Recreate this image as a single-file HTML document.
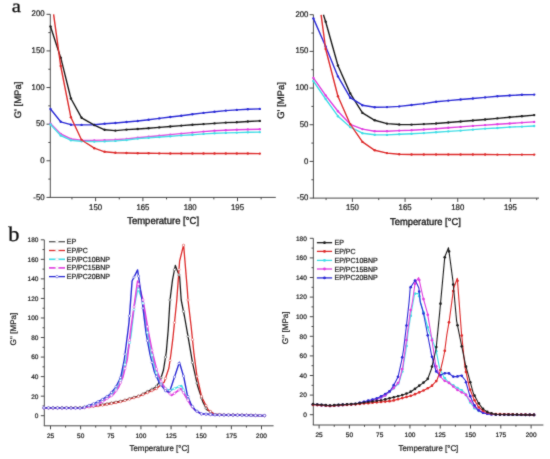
<!DOCTYPE html>
<html><head><meta charset="utf-8"><title>Figure</title>
<style>
html,body{margin:0;padding:0;background:#fff;}
body{width:550px;height:459px;overflow:hidden;font-family:"Liberation Sans", sans-serif;}
svg{display:block;text-rendering:geometricPrecision;}
</style></head>
<body>
<svg width="550" height="459" viewBox="0 0 550 459">
<defs><filter id="soft" filterUnits="userSpaceOnUse" x="0" y="0" width="550" height="459"><feConvolveMatrix order="3" kernelMatrix="0.02 0.08 0.02 0.08 0.6 0.08 0.02 0.08 0.02" edgeMode="none"/></filter></defs>
<rect width="550" height="459" fill="#fff"/>
<g filter="url(#soft)">
<line x1="50.3" y1="14.3" x2="50.3" y2="197.4" stroke="#4a4a4a" stroke-width="1"/>
<line x1="49.8" y1="197.4" x2="275.8" y2="197.4" stroke="#4a4a4a" stroke-width="1"/>
<line x1="46.5" y1="14.3" x2="50.3" y2="14.3" stroke="#4a4a4a" stroke-width="1"/>
<text transform="translate(44.6,16.41) scale(1,1.05)" font-size="7.8" text-anchor="end" fill="#1c1c1c" stroke="#1c1c1c" stroke-width="0.22" font-family='"Liberation Sans", sans-serif' >200</text>
<line x1="46.5" y1="50.92" x2="50.3" y2="50.92" stroke="#4a4a4a" stroke-width="1"/>
<text transform="translate(44.6,53.03) scale(1,1.05)" font-size="7.8" text-anchor="end" fill="#1c1c1c" stroke="#1c1c1c" stroke-width="0.22" font-family='"Liberation Sans", sans-serif' >150</text>
<line x1="46.5" y1="87.54" x2="50.3" y2="87.54" stroke="#4a4a4a" stroke-width="1"/>
<text transform="translate(44.6,89.65) scale(1,1.05)" font-size="7.8" text-anchor="end" fill="#1c1c1c" stroke="#1c1c1c" stroke-width="0.22" font-family='"Liberation Sans", sans-serif' >100</text>
<line x1="46.5" y1="124.16" x2="50.3" y2="124.16" stroke="#4a4a4a" stroke-width="1"/>
<text transform="translate(44.6,126.27) scale(1,1.05)" font-size="7.8" text-anchor="end" fill="#1c1c1c" stroke="#1c1c1c" stroke-width="0.22" font-family='"Liberation Sans", sans-serif' >50</text>
<line x1="46.5" y1="160.78" x2="50.3" y2="160.78" stroke="#4a4a4a" stroke-width="1"/>
<text transform="translate(44.6,162.89) scale(1,1.05)" font-size="7.8" text-anchor="end" fill="#1c1c1c" stroke="#1c1c1c" stroke-width="0.22" font-family='"Liberation Sans", sans-serif' >0</text>
<line x1="46.5" y1="197.4" x2="50.3" y2="197.4" stroke="#4a4a4a" stroke-width="1"/>
<text transform="translate(44.6,199.51) scale(1,1.05)" font-size="7.8" text-anchor="end" fill="#1c1c1c" stroke="#1c1c1c" stroke-width="0.22" font-family='"Liberation Sans", sans-serif' >-50</text>
<line x1="48.3" y1="32.61" x2="50.3" y2="32.61" stroke="#4a4a4a" stroke-width="1"/>
<line x1="48.3" y1="69.23" x2="50.3" y2="69.23" stroke="#4a4a4a" stroke-width="1"/>
<line x1="48.3" y1="105.85" x2="50.3" y2="105.85" stroke="#4a4a4a" stroke-width="1"/>
<line x1="48.3" y1="142.47" x2="50.3" y2="142.47" stroke="#4a4a4a" stroke-width="1"/>
<line x1="48.3" y1="179.09" x2="50.3" y2="179.09" stroke="#4a4a4a" stroke-width="1"/>
<line x1="95.6" y1="197.4" x2="95.6" y2="201.2" stroke="#4a4a4a" stroke-width="1"/>
<text transform="translate(95.6,209.8) scale(1,1.05)" font-size="7.8" text-anchor="middle" fill="#1c1c1c" stroke="#1c1c1c" stroke-width="0.22" font-family='"Liberation Sans", sans-serif' >150</text>
<line x1="142.9" y1="197.4" x2="142.9" y2="201.2" stroke="#4a4a4a" stroke-width="1"/>
<text transform="translate(142.9,209.8) scale(1,1.05)" font-size="7.8" text-anchor="middle" fill="#1c1c1c" stroke="#1c1c1c" stroke-width="0.22" font-family='"Liberation Sans", sans-serif' >165</text>
<line x1="190.2" y1="197.4" x2="190.2" y2="201.2" stroke="#4a4a4a" stroke-width="1"/>
<text transform="translate(190.2,209.8) scale(1,1.05)" font-size="7.8" text-anchor="middle" fill="#1c1c1c" stroke="#1c1c1c" stroke-width="0.22" font-family='"Liberation Sans", sans-serif' >180</text>
<line x1="237.5" y1="197.4" x2="237.5" y2="201.2" stroke="#4a4a4a" stroke-width="1"/>
<text transform="translate(237.5,209.8) scale(1,1.05)" font-size="7.8" text-anchor="middle" fill="#1c1c1c" stroke="#1c1c1c" stroke-width="0.22" font-family='"Liberation Sans", sans-serif' >195</text>
<line x1="71.95" y1="197.4" x2="71.95" y2="199.4" stroke="#4a4a4a" stroke-width="1"/>
<line x1="119.25" y1="197.4" x2="119.25" y2="199.4" stroke="#4a4a4a" stroke-width="1"/>
<line x1="166.55" y1="197.4" x2="166.55" y2="199.4" stroke="#4a4a4a" stroke-width="1"/>
<line x1="213.85" y1="197.4" x2="213.85" y2="199.4" stroke="#4a4a4a" stroke-width="1"/>
<line x1="261.15" y1="197.4" x2="261.15" y2="199.4" stroke="#4a4a4a" stroke-width="1"/>
<text transform="translate(163.1,224.1) scale(1,1.05)" font-size="9.5" text-anchor="middle" fill="#1c1c1c" stroke="#1c1c1c" stroke-width="0.35" font-family='"Liberation Sans", sans-serif' >Temperature [°C]</text>
<text transform="translate(21.2,100) rotate(-90)" font-size="9.5" text-anchor="middle" fill="#1c1c1c" stroke="#1c1c1c" stroke-width="0.3" font-family='"Liberation Sans", sans-serif'>G' [MPa]</text>
<polyline points="50.5,123.6 60.7,134 70.9,139 81.6,140.2 94.3,140.4 104.6,140.1 115.4,139.7 126.5,138.9 137.7,137.8 148.6,136.8 159.3,135.7 170.3,134.6 181.3,133.6 192.4,132.6 203.5,131.6 214.5,130.8 225.8,130.2 236.8,129.8 247.8,129.5 259.8,129.2" fill="none" stroke="#e03ee0" stroke-width="1.4" stroke-linejoin="round"/>
<circle cx="50.5" cy="123.6" r="1.2" fill="#e03ee0"/>
<circle cx="60.7" cy="134" r="1.2" fill="#e03ee0"/>
<circle cx="70.9" cy="139" r="1.2" fill="#e03ee0"/>
<circle cx="81.6" cy="140.2" r="1.2" fill="#e03ee0"/>
<circle cx="94.3" cy="140.4" r="1.2" fill="#e03ee0"/>
<circle cx="104.6" cy="140.1" r="1.2" fill="#e03ee0"/>
<circle cx="115.4" cy="139.7" r="1.2" fill="#e03ee0"/>
<circle cx="126.5" cy="138.9" r="1.2" fill="#e03ee0"/>
<circle cx="137.7" cy="137.8" r="1.2" fill="#e03ee0"/>
<circle cx="148.6" cy="136.8" r="1.2" fill="#e03ee0"/>
<circle cx="159.3" cy="135.7" r="1.2" fill="#e03ee0"/>
<circle cx="170.3" cy="134.6" r="1.2" fill="#e03ee0"/>
<circle cx="181.3" cy="133.6" r="1.2" fill="#e03ee0"/>
<circle cx="192.4" cy="132.6" r="1.2" fill="#e03ee0"/>
<circle cx="203.5" cy="131.6" r="1.2" fill="#e03ee0"/>
<circle cx="214.5" cy="130.8" r="1.2" fill="#e03ee0"/>
<circle cx="225.8" cy="130.2" r="1.2" fill="#e03ee0"/>
<circle cx="236.8" cy="129.8" r="1.2" fill="#e03ee0"/>
<circle cx="247.8" cy="129.5" r="1.2" fill="#e03ee0"/>
<circle cx="259.8" cy="129.2" r="1.2" fill="#e03ee0"/>
<polyline points="50.5,124.5 60.7,135.5 70.9,140.2 81.6,141.3 94.3,141.6 104.6,141.4 115.4,140.9 126.5,140 137.7,138.6 148.6,137.8 159.3,137 170.3,136.2 181.3,135.4 192.4,134.7 203.5,133.9 214.5,133.2 225.8,132.9 236.8,132.6 247.8,132.3 259.8,132.1" fill="none" stroke="#3fdde6" stroke-width="1.4" stroke-linejoin="round"/>
<circle cx="50.5" cy="124.5" r="1.2" fill="#3fdde6"/>
<circle cx="60.7" cy="135.5" r="1.2" fill="#3fdde6"/>
<circle cx="70.9" cy="140.2" r="1.2" fill="#3fdde6"/>
<circle cx="81.6" cy="141.3" r="1.2" fill="#3fdde6"/>
<circle cx="94.3" cy="141.6" r="1.2" fill="#3fdde6"/>
<circle cx="104.6" cy="141.4" r="1.2" fill="#3fdde6"/>
<circle cx="115.4" cy="140.9" r="1.2" fill="#3fdde6"/>
<circle cx="126.5" cy="140" r="1.2" fill="#3fdde6"/>
<circle cx="137.7" cy="138.6" r="1.2" fill="#3fdde6"/>
<circle cx="148.6" cy="137.8" r="1.2" fill="#3fdde6"/>
<circle cx="159.3" cy="137" r="1.2" fill="#3fdde6"/>
<circle cx="170.3" cy="136.2" r="1.2" fill="#3fdde6"/>
<circle cx="181.3" cy="135.4" r="1.2" fill="#3fdde6"/>
<circle cx="192.4" cy="134.7" r="1.2" fill="#3fdde6"/>
<circle cx="203.5" cy="133.9" r="1.2" fill="#3fdde6"/>
<circle cx="214.5" cy="133.2" r="1.2" fill="#3fdde6"/>
<circle cx="225.8" cy="132.9" r="1.2" fill="#3fdde6"/>
<circle cx="236.8" cy="132.6" r="1.2" fill="#3fdde6"/>
<circle cx="247.8" cy="132.3" r="1.2" fill="#3fdde6"/>
<circle cx="259.8" cy="132.1" r="1.2" fill="#3fdde6"/>
<polyline points="50.5,109 60.7,121.8 70.9,124.7 81.6,124.9 94.3,124.7 104.6,123.8 115.4,123 126.5,122 137.7,121 148.6,119.7 159.3,118.4 170.3,117 181.3,115.7 192.4,114.3 203.5,112.9 214.5,111.7 225.8,110.6 236.8,109.9 247.8,109.3 259.8,108.9" fill="none" stroke="#2b2bd6" stroke-width="1.4" stroke-linejoin="round"/>
<circle cx="50.5" cy="109" r="1.2" fill="#2b2bd6"/>
<circle cx="60.7" cy="121.8" r="1.2" fill="#2b2bd6"/>
<circle cx="70.9" cy="124.7" r="1.2" fill="#2b2bd6"/>
<circle cx="81.6" cy="124.9" r="1.2" fill="#2b2bd6"/>
<circle cx="94.3" cy="124.7" r="1.2" fill="#2b2bd6"/>
<circle cx="104.6" cy="123.8" r="1.2" fill="#2b2bd6"/>
<circle cx="115.4" cy="123" r="1.2" fill="#2b2bd6"/>
<circle cx="126.5" cy="122" r="1.2" fill="#2b2bd6"/>
<circle cx="137.7" cy="121" r="1.2" fill="#2b2bd6"/>
<circle cx="148.6" cy="119.7" r="1.2" fill="#2b2bd6"/>
<circle cx="159.3" cy="118.4" r="1.2" fill="#2b2bd6"/>
<circle cx="170.3" cy="117" r="1.2" fill="#2b2bd6"/>
<circle cx="181.3" cy="115.7" r="1.2" fill="#2b2bd6"/>
<circle cx="192.4" cy="114.3" r="1.2" fill="#2b2bd6"/>
<circle cx="203.5" cy="112.9" r="1.2" fill="#2b2bd6"/>
<circle cx="214.5" cy="111.7" r="1.2" fill="#2b2bd6"/>
<circle cx="225.8" cy="110.6" r="1.2" fill="#2b2bd6"/>
<circle cx="236.8" cy="109.9" r="1.2" fill="#2b2bd6"/>
<circle cx="247.8" cy="109.3" r="1.2" fill="#2b2bd6"/>
<circle cx="259.8" cy="108.9" r="1.2" fill="#2b2bd6"/>
<polyline points="50.5,26.5 60.7,57.7 70.9,98.5 81.6,117.8 94.3,125.1 104.6,129.8 115.4,130.6 126.5,129.6 137.7,129 148.6,128.2 159.3,127.4 170.3,126.5 181.3,125.6 192.4,124.8 203.5,124.1 214.5,123.4 225.8,122.6 236.8,122.2 247.8,121.5 259.8,120.9" fill="none" stroke="#1e1e1e" stroke-width="1.4" stroke-linejoin="round"/>
<circle cx="50.5" cy="26.5" r="1.2" fill="#1e1e1e"/>
<circle cx="60.7" cy="57.7" r="1.2" fill="#1e1e1e"/>
<circle cx="70.9" cy="98.5" r="1.2" fill="#1e1e1e"/>
<circle cx="81.6" cy="117.8" r="1.2" fill="#1e1e1e"/>
<circle cx="94.3" cy="125.1" r="1.2" fill="#1e1e1e"/>
<circle cx="104.6" cy="129.8" r="1.2" fill="#1e1e1e"/>
<circle cx="115.4" cy="130.6" r="1.2" fill="#1e1e1e"/>
<circle cx="126.5" cy="129.6" r="1.2" fill="#1e1e1e"/>
<circle cx="137.7" cy="129" r="1.2" fill="#1e1e1e"/>
<circle cx="148.6" cy="128.2" r="1.2" fill="#1e1e1e"/>
<circle cx="159.3" cy="127.4" r="1.2" fill="#1e1e1e"/>
<circle cx="170.3" cy="126.5" r="1.2" fill="#1e1e1e"/>
<circle cx="181.3" cy="125.6" r="1.2" fill="#1e1e1e"/>
<circle cx="192.4" cy="124.8" r="1.2" fill="#1e1e1e"/>
<circle cx="203.5" cy="124.1" r="1.2" fill="#1e1e1e"/>
<circle cx="214.5" cy="123.4" r="1.2" fill="#1e1e1e"/>
<circle cx="225.8" cy="122.6" r="1.2" fill="#1e1e1e"/>
<circle cx="236.8" cy="122.2" r="1.2" fill="#1e1e1e"/>
<circle cx="247.8" cy="121.5" r="1.2" fill="#1e1e1e"/>
<circle cx="259.8" cy="120.9" r="1.2" fill="#1e1e1e"/>
<polyline points="53.6,14.3 60.7,66 70.9,117.3 81.6,140 94.3,148.2 104.6,151.8 115.4,152.7 126.5,153 137.7,153.2 148.6,153.3 159.3,153.4 170.3,153.5 181.3,153.5 192.4,153.5 203.5,153.5 214.5,153.5 225.8,153.5 236.8,153.5 247.8,153.5 259.8,153.6" fill="none" stroke="#dd2a2a" stroke-width="1.4" stroke-linejoin="round"/>
<circle cx="60.7" cy="66" r="1.2" fill="#dd2a2a"/>
<circle cx="70.9" cy="117.3" r="1.2" fill="#dd2a2a"/>
<circle cx="81.6" cy="140" r="1.2" fill="#dd2a2a"/>
<circle cx="94.3" cy="148.2" r="1.2" fill="#dd2a2a"/>
<circle cx="104.6" cy="151.8" r="1.2" fill="#dd2a2a"/>
<circle cx="115.4" cy="152.7" r="1.2" fill="#dd2a2a"/>
<circle cx="126.5" cy="153" r="1.2" fill="#dd2a2a"/>
<circle cx="137.7" cy="153.2" r="1.2" fill="#dd2a2a"/>
<circle cx="148.6" cy="153.3" r="1.2" fill="#dd2a2a"/>
<circle cx="159.3" cy="153.4" r="1.2" fill="#dd2a2a"/>
<circle cx="170.3" cy="153.5" r="1.2" fill="#dd2a2a"/>
<circle cx="181.3" cy="153.5" r="1.2" fill="#dd2a2a"/>
<circle cx="192.4" cy="153.5" r="1.2" fill="#dd2a2a"/>
<circle cx="203.5" cy="153.5" r="1.2" fill="#dd2a2a"/>
<circle cx="214.5" cy="153.5" r="1.2" fill="#dd2a2a"/>
<circle cx="225.8" cy="153.5" r="1.2" fill="#dd2a2a"/>
<circle cx="236.8" cy="153.5" r="1.2" fill="#dd2a2a"/>
<circle cx="247.8" cy="153.5" r="1.2" fill="#dd2a2a"/>
<circle cx="259.8" cy="153.6" r="1.2" fill="#dd2a2a"/>
<text transform="translate(11.85,12.15) scale(1.03,0.9)" font-size="20" text-anchor="start" fill="#111" stroke="#111" stroke-width="0.3" font-family='"Liberation Serif", serif' >a</text>
<line x1="313.4" y1="14.7" x2="313.4" y2="198.1" stroke="#4a4a4a" stroke-width="1"/>
<line x1="312.9" y1="198.1" x2="539" y2="198.1" stroke="#4a4a4a" stroke-width="1"/>
<line x1="309.6" y1="14.7" x2="313.4" y2="14.7" stroke="#4a4a4a" stroke-width="1"/>
<text transform="translate(308.4,16.81) scale(1,1.05)" font-size="7.8" text-anchor="end" fill="#1c1c1c" stroke="#1c1c1c" stroke-width="0.22" font-family='"Liberation Sans", sans-serif' >200</text>
<line x1="309.6" y1="51.38" x2="313.4" y2="51.38" stroke="#4a4a4a" stroke-width="1"/>
<text transform="translate(308.4,53.49) scale(1,1.05)" font-size="7.8" text-anchor="end" fill="#1c1c1c" stroke="#1c1c1c" stroke-width="0.22" font-family='"Liberation Sans", sans-serif' >150</text>
<line x1="309.6" y1="88.06" x2="313.4" y2="88.06" stroke="#4a4a4a" stroke-width="1"/>
<text transform="translate(308.4,90.17) scale(1,1.05)" font-size="7.8" text-anchor="end" fill="#1c1c1c" stroke="#1c1c1c" stroke-width="0.22" font-family='"Liberation Sans", sans-serif' >100</text>
<line x1="309.6" y1="124.74" x2="313.4" y2="124.74" stroke="#4a4a4a" stroke-width="1"/>
<text transform="translate(308.4,126.85) scale(1,1.05)" font-size="7.8" text-anchor="end" fill="#1c1c1c" stroke="#1c1c1c" stroke-width="0.22" font-family='"Liberation Sans", sans-serif' >50</text>
<line x1="309.6" y1="161.42" x2="313.4" y2="161.42" stroke="#4a4a4a" stroke-width="1"/>
<text transform="translate(308.4,163.53) scale(1,1.05)" font-size="7.8" text-anchor="end" fill="#1c1c1c" stroke="#1c1c1c" stroke-width="0.22" font-family='"Liberation Sans", sans-serif' >0</text>
<line x1="309.6" y1="198.1" x2="313.4" y2="198.1" stroke="#4a4a4a" stroke-width="1"/>
<text transform="translate(308.4,200.21) scale(1,1.05)" font-size="7.8" text-anchor="end" fill="#1c1c1c" stroke="#1c1c1c" stroke-width="0.22" font-family='"Liberation Sans", sans-serif' >-50</text>
<line x1="311.4" y1="33.04" x2="313.4" y2="33.04" stroke="#4a4a4a" stroke-width="1"/>
<line x1="311.4" y1="69.72" x2="313.4" y2="69.72" stroke="#4a4a4a" stroke-width="1"/>
<line x1="311.4" y1="106.4" x2="313.4" y2="106.4" stroke="#4a4a4a" stroke-width="1"/>
<line x1="311.4" y1="143.08" x2="313.4" y2="143.08" stroke="#4a4a4a" stroke-width="1"/>
<line x1="311.4" y1="179.76" x2="313.4" y2="179.76" stroke="#4a4a4a" stroke-width="1"/>
<line x1="352.4" y1="198.1" x2="352.4" y2="201.9" stroke="#4a4a4a" stroke-width="1"/>
<text transform="translate(352.4,210.4) scale(1,1.05)" font-size="7.8" text-anchor="middle" fill="#1c1c1c" stroke="#1c1c1c" stroke-width="0.22" font-family='"Liberation Sans", sans-serif' >150</text>
<line x1="405.07" y1="198.1" x2="405.07" y2="201.9" stroke="#4a4a4a" stroke-width="1"/>
<text transform="translate(405.07,210.4) scale(1,1.05)" font-size="7.8" text-anchor="middle" fill="#1c1c1c" stroke="#1c1c1c" stroke-width="0.22" font-family='"Liberation Sans", sans-serif' >165</text>
<line x1="457.73" y1="198.1" x2="457.73" y2="201.9" stroke="#4a4a4a" stroke-width="1"/>
<text transform="translate(457.73,210.4) scale(1,1.05)" font-size="7.8" text-anchor="middle" fill="#1c1c1c" stroke="#1c1c1c" stroke-width="0.22" font-family='"Liberation Sans", sans-serif' >180</text>
<line x1="510.4" y1="198.1" x2="510.4" y2="201.9" stroke="#4a4a4a" stroke-width="1"/>
<text transform="translate(510.4,210.4) scale(1,1.05)" font-size="7.8" text-anchor="middle" fill="#1c1c1c" stroke="#1c1c1c" stroke-width="0.22" font-family='"Liberation Sans", sans-serif' >195</text>
<line x1="326.07" y1="198.1" x2="326.07" y2="200.1" stroke="#4a4a4a" stroke-width="1"/>
<line x1="378.73" y1="198.1" x2="378.73" y2="200.1" stroke="#4a4a4a" stroke-width="1"/>
<line x1="431.4" y1="198.1" x2="431.4" y2="200.1" stroke="#4a4a4a" stroke-width="1"/>
<line x1="484.07" y1="198.1" x2="484.07" y2="200.1" stroke="#4a4a4a" stroke-width="1"/>
<line x1="536.73" y1="198.1" x2="536.73" y2="200.1" stroke="#4a4a4a" stroke-width="1"/>
<text transform="translate(425.4,225.4) scale(1,1.05)" font-size="9.35" text-anchor="middle" fill="#1c1c1c" stroke="#1c1c1c" stroke-width="0.35" font-family='"Liberation Sans", sans-serif' >Temperature [°C]</text>
<text transform="translate(284.2,100.5) rotate(-90)" font-size="9.5" text-anchor="middle" fill="#1c1c1c" stroke="#1c1c1c" stroke-width="0.3" font-family='"Liberation Sans", sans-serif'>G' [MPa]</text>
<polyline points="313.4,81 325.67,99 337.93,116.2 350.2,127.1 362.46,133.2 374.73,134.8 387,134.9 399.26,134.3 411.53,133.8 423.79,133.1 436.06,132.3 448.33,131.4 460.59,130.6 472.86,129.6 485.12,128.6 497.39,128 509.66,127.1 521.92,126.6 534.19,126" fill="none" stroke="#3fdde6" stroke-width="1.4" stroke-linejoin="round"/>
<circle cx="313.4" cy="81" r="1.2" fill="#3fdde6"/>
<circle cx="325.67" cy="99" r="1.2" fill="#3fdde6"/>
<circle cx="337.93" cy="116.2" r="1.2" fill="#3fdde6"/>
<circle cx="350.2" cy="127.1" r="1.2" fill="#3fdde6"/>
<circle cx="362.46" cy="133.2" r="1.2" fill="#3fdde6"/>
<circle cx="374.73" cy="134.8" r="1.2" fill="#3fdde6"/>
<circle cx="387" cy="134.9" r="1.2" fill="#3fdde6"/>
<circle cx="399.26" cy="134.3" r="1.2" fill="#3fdde6"/>
<circle cx="411.53" cy="133.8" r="1.2" fill="#3fdde6"/>
<circle cx="423.79" cy="133.1" r="1.2" fill="#3fdde6"/>
<circle cx="436.06" cy="132.3" r="1.2" fill="#3fdde6"/>
<circle cx="448.33" cy="131.4" r="1.2" fill="#3fdde6"/>
<circle cx="460.59" cy="130.6" r="1.2" fill="#3fdde6"/>
<circle cx="472.86" cy="129.6" r="1.2" fill="#3fdde6"/>
<circle cx="485.12" cy="128.6" r="1.2" fill="#3fdde6"/>
<circle cx="497.39" cy="128" r="1.2" fill="#3fdde6"/>
<circle cx="509.66" cy="127.1" r="1.2" fill="#3fdde6"/>
<circle cx="521.92" cy="126.6" r="1.2" fill="#3fdde6"/>
<circle cx="534.19" cy="126" r="1.2" fill="#3fdde6"/>
<polyline points="313.4,77.9 325.67,95.5 337.93,111.3 350.2,124.3 362.46,129.1 374.73,131.2 387,131.3 399.26,130.6 411.53,130.2 423.79,129.5 436.06,128.7 448.33,127.8 460.59,126.9 472.86,125.9 485.12,125.1 497.39,124.3 509.66,123.5 521.92,122.6 534.19,121.9" fill="none" stroke="#e03ee0" stroke-width="1.4" stroke-linejoin="round"/>
<circle cx="313.4" cy="77.9" r="1.2" fill="#e03ee0"/>
<circle cx="325.67" cy="95.5" r="1.2" fill="#e03ee0"/>
<circle cx="337.93" cy="111.3" r="1.2" fill="#e03ee0"/>
<circle cx="350.2" cy="124.3" r="1.2" fill="#e03ee0"/>
<circle cx="362.46" cy="129.1" r="1.2" fill="#e03ee0"/>
<circle cx="374.73" cy="131.2" r="1.2" fill="#e03ee0"/>
<circle cx="387" cy="131.3" r="1.2" fill="#e03ee0"/>
<circle cx="399.26" cy="130.6" r="1.2" fill="#e03ee0"/>
<circle cx="411.53" cy="130.2" r="1.2" fill="#e03ee0"/>
<circle cx="423.79" cy="129.5" r="1.2" fill="#e03ee0"/>
<circle cx="436.06" cy="128.7" r="1.2" fill="#e03ee0"/>
<circle cx="448.33" cy="127.8" r="1.2" fill="#e03ee0"/>
<circle cx="460.59" cy="126.9" r="1.2" fill="#e03ee0"/>
<circle cx="472.86" cy="125.9" r="1.2" fill="#e03ee0"/>
<circle cx="485.12" cy="125.1" r="1.2" fill="#e03ee0"/>
<circle cx="497.39" cy="124.3" r="1.2" fill="#e03ee0"/>
<circle cx="509.66" cy="123.5" r="1.2" fill="#e03ee0"/>
<circle cx="521.92" cy="122.6" r="1.2" fill="#e03ee0"/>
<circle cx="534.19" cy="121.9" r="1.2" fill="#e03ee0"/>
<polyline points="323.4,14.8 325.67,21.7 337.93,65.5 350.2,93.4 362.46,112.9 374.73,120.3 387,123.6 399.26,124.5 411.53,124.6 423.79,124.1 436.06,123.5 448.33,122.5 460.59,121.5 472.86,120.5 485.12,119.5 497.39,118.4 509.66,117.3 521.92,116.2 534.19,115.1" fill="none" stroke="#1e1e1e" stroke-width="1.4" stroke-linejoin="round"/>
<circle cx="325.67" cy="21.7" r="1.2" fill="#1e1e1e"/>
<circle cx="337.93" cy="65.5" r="1.2" fill="#1e1e1e"/>
<circle cx="350.2" cy="93.4" r="1.2" fill="#1e1e1e"/>
<circle cx="362.46" cy="112.9" r="1.2" fill="#1e1e1e"/>
<circle cx="374.73" cy="120.3" r="1.2" fill="#1e1e1e"/>
<circle cx="387" cy="123.6" r="1.2" fill="#1e1e1e"/>
<circle cx="399.26" cy="124.5" r="1.2" fill="#1e1e1e"/>
<circle cx="411.53" cy="124.6" r="1.2" fill="#1e1e1e"/>
<circle cx="423.79" cy="124.1" r="1.2" fill="#1e1e1e"/>
<circle cx="436.06" cy="123.5" r="1.2" fill="#1e1e1e"/>
<circle cx="448.33" cy="122.5" r="1.2" fill="#1e1e1e"/>
<circle cx="460.59" cy="121.5" r="1.2" fill="#1e1e1e"/>
<circle cx="472.86" cy="120.5" r="1.2" fill="#1e1e1e"/>
<circle cx="485.12" cy="119.5" r="1.2" fill="#1e1e1e"/>
<circle cx="497.39" cy="118.4" r="1.2" fill="#1e1e1e"/>
<circle cx="509.66" cy="117.3" r="1.2" fill="#1e1e1e"/>
<circle cx="521.92" cy="116.2" r="1.2" fill="#1e1e1e"/>
<circle cx="534.19" cy="115.1" r="1.2" fill="#1e1e1e"/>
<polyline points="313.4,18.4 325.67,46.5 337.93,76.4 350.2,97.7 362.46,105.2 374.73,107.2 387,107.1 399.26,106.4 411.53,105 423.79,103.6 436.06,101.8 448.33,100.6 460.59,99.5 472.86,98.5 485.12,97.4 497.39,96.2 509.66,95.5 521.92,94.8 534.19,94.6" fill="none" stroke="#2b2bd6" stroke-width="1.4" stroke-linejoin="round"/>
<circle cx="313.4" cy="18.4" r="1.2" fill="#2b2bd6"/>
<circle cx="325.67" cy="46.5" r="1.2" fill="#2b2bd6"/>
<circle cx="337.93" cy="76.4" r="1.2" fill="#2b2bd6"/>
<circle cx="350.2" cy="97.7" r="1.2" fill="#2b2bd6"/>
<circle cx="362.46" cy="105.2" r="1.2" fill="#2b2bd6"/>
<circle cx="374.73" cy="107.2" r="1.2" fill="#2b2bd6"/>
<circle cx="387" cy="107.1" r="1.2" fill="#2b2bd6"/>
<circle cx="399.26" cy="106.4" r="1.2" fill="#2b2bd6"/>
<circle cx="411.53" cy="105" r="1.2" fill="#2b2bd6"/>
<circle cx="423.79" cy="103.6" r="1.2" fill="#2b2bd6"/>
<circle cx="436.06" cy="101.8" r="1.2" fill="#2b2bd6"/>
<circle cx="448.33" cy="100.6" r="1.2" fill="#2b2bd6"/>
<circle cx="460.59" cy="99.5" r="1.2" fill="#2b2bd6"/>
<circle cx="472.86" cy="98.5" r="1.2" fill="#2b2bd6"/>
<circle cx="485.12" cy="97.4" r="1.2" fill="#2b2bd6"/>
<circle cx="497.39" cy="96.2" r="1.2" fill="#2b2bd6"/>
<circle cx="509.66" cy="95.5" r="1.2" fill="#2b2bd6"/>
<circle cx="521.92" cy="94.8" r="1.2" fill="#2b2bd6"/>
<circle cx="534.19" cy="94.6" r="1.2" fill="#2b2bd6"/>
<polyline points="321.1,14.8 325.67,49 337.93,96.2 350.2,124.2 362.46,141.9 374.73,150.3 387,153.1 399.26,154.2 411.53,154.5 423.79,154.5 436.06,154.5 448.33,154.5 460.59,154.5 472.86,154.5 485.12,154.5 497.39,154.6 509.66,154.6 521.92,154.6 534.19,154.6" fill="none" stroke="#dd2a2a" stroke-width="1.4" stroke-linejoin="round"/>
<circle cx="325.67" cy="49" r="1.2" fill="#dd2a2a"/>
<circle cx="337.93" cy="96.2" r="1.2" fill="#dd2a2a"/>
<circle cx="350.2" cy="124.2" r="1.2" fill="#dd2a2a"/>
<circle cx="362.46" cy="141.9" r="1.2" fill="#dd2a2a"/>
<circle cx="374.73" cy="150.3" r="1.2" fill="#dd2a2a"/>
<circle cx="387" cy="153.1" r="1.2" fill="#dd2a2a"/>
<circle cx="399.26" cy="154.2" r="1.2" fill="#dd2a2a"/>
<circle cx="411.53" cy="154.5" r="1.2" fill="#dd2a2a"/>
<circle cx="423.79" cy="154.5" r="1.2" fill="#dd2a2a"/>
<circle cx="436.06" cy="154.5" r="1.2" fill="#dd2a2a"/>
<circle cx="448.33" cy="154.5" r="1.2" fill="#dd2a2a"/>
<circle cx="460.59" cy="154.5" r="1.2" fill="#dd2a2a"/>
<circle cx="472.86" cy="154.5" r="1.2" fill="#dd2a2a"/>
<circle cx="485.12" cy="154.5" r="1.2" fill="#dd2a2a"/>
<circle cx="497.39" cy="154.6" r="1.2" fill="#dd2a2a"/>
<circle cx="509.66" cy="154.6" r="1.2" fill="#dd2a2a"/>
<circle cx="521.92" cy="154.6" r="1.2" fill="#dd2a2a"/>
<circle cx="534.19" cy="154.6" r="1.2" fill="#dd2a2a"/>
<line x1="44.3" y1="239.8" x2="44.3" y2="425.8" stroke="#4a4a4a" stroke-width="1"/>
<line x1="43.8" y1="425.8" x2="273.6" y2="425.8" stroke="#4a4a4a" stroke-width="1"/>
<line x1="40.8" y1="415.7" x2="44.3" y2="415.7" stroke="#4a4a4a" stroke-width="1"/>
<text transform="translate(38.4,418.04) scale(1,1)" font-size="6.5" text-anchor="end" fill="#1c1c1c" stroke="#1c1c1c" stroke-width="0.22" font-family='"Liberation Sans", sans-serif' >0</text>
<line x1="40.8" y1="396.16" x2="44.3" y2="396.16" stroke="#4a4a4a" stroke-width="1"/>
<text transform="translate(38.4,398.5) scale(1,1)" font-size="6.5" text-anchor="end" fill="#1c1c1c" stroke="#1c1c1c" stroke-width="0.22" font-family='"Liberation Sans", sans-serif' >20</text>
<line x1="40.8" y1="376.61" x2="44.3" y2="376.61" stroke="#4a4a4a" stroke-width="1"/>
<text transform="translate(38.4,378.95) scale(1,1)" font-size="6.5" text-anchor="end" fill="#1c1c1c" stroke="#1c1c1c" stroke-width="0.22" font-family='"Liberation Sans", sans-serif' >40</text>
<line x1="40.8" y1="357.07" x2="44.3" y2="357.07" stroke="#4a4a4a" stroke-width="1"/>
<text transform="translate(38.4,359.41) scale(1,1)" font-size="6.5" text-anchor="end" fill="#1c1c1c" stroke="#1c1c1c" stroke-width="0.22" font-family='"Liberation Sans", sans-serif' >60</text>
<line x1="40.8" y1="337.52" x2="44.3" y2="337.52" stroke="#4a4a4a" stroke-width="1"/>
<text transform="translate(38.4,339.86) scale(1,1)" font-size="6.5" text-anchor="end" fill="#1c1c1c" stroke="#1c1c1c" stroke-width="0.22" font-family='"Liberation Sans", sans-serif' >80</text>
<line x1="40.8" y1="317.98" x2="44.3" y2="317.98" stroke="#4a4a4a" stroke-width="1"/>
<text transform="translate(38.4,320.32) scale(1,1)" font-size="6.5" text-anchor="end" fill="#1c1c1c" stroke="#1c1c1c" stroke-width="0.22" font-family='"Liberation Sans", sans-serif' >100</text>
<line x1="40.8" y1="298.43" x2="44.3" y2="298.43" stroke="#4a4a4a" stroke-width="1"/>
<text transform="translate(38.4,300.77) scale(1,1)" font-size="6.5" text-anchor="end" fill="#1c1c1c" stroke="#1c1c1c" stroke-width="0.22" font-family='"Liberation Sans", sans-serif' >120</text>
<line x1="40.8" y1="278.89" x2="44.3" y2="278.89" stroke="#4a4a4a" stroke-width="1"/>
<text transform="translate(38.4,281.23) scale(1,1)" font-size="6.5" text-anchor="end" fill="#1c1c1c" stroke="#1c1c1c" stroke-width="0.22" font-family='"Liberation Sans", sans-serif' >140</text>
<line x1="40.8" y1="259.34" x2="44.3" y2="259.34" stroke="#4a4a4a" stroke-width="1"/>
<text transform="translate(38.4,261.68) scale(1,1)" font-size="6.5" text-anchor="end" fill="#1c1c1c" stroke="#1c1c1c" stroke-width="0.22" font-family='"Liberation Sans", sans-serif' >160</text>
<line x1="40.8" y1="239.8" x2="44.3" y2="239.8" stroke="#4a4a4a" stroke-width="1"/>
<text transform="translate(38.4,242.14) scale(1,1)" font-size="6.5" text-anchor="end" fill="#1c1c1c" stroke="#1c1c1c" stroke-width="0.22" font-family='"Liberation Sans", sans-serif' >180</text>
<line x1="42.5" y1="405.93" x2="44.3" y2="405.93" stroke="#4a4a4a" stroke-width="1"/>
<line x1="42.5" y1="386.38" x2="44.3" y2="386.38" stroke="#4a4a4a" stroke-width="1"/>
<line x1="42.5" y1="366.84" x2="44.3" y2="366.84" stroke="#4a4a4a" stroke-width="1"/>
<line x1="42.5" y1="347.29" x2="44.3" y2="347.29" stroke="#4a4a4a" stroke-width="1"/>
<line x1="42.5" y1="327.75" x2="44.3" y2="327.75" stroke="#4a4a4a" stroke-width="1"/>
<line x1="42.5" y1="308.21" x2="44.3" y2="308.21" stroke="#4a4a4a" stroke-width="1"/>
<line x1="42.5" y1="288.66" x2="44.3" y2="288.66" stroke="#4a4a4a" stroke-width="1"/>
<line x1="42.5" y1="269.12" x2="44.3" y2="269.12" stroke="#4a4a4a" stroke-width="1"/>
<line x1="42.5" y1="249.57" x2="44.3" y2="249.57" stroke="#4a4a4a" stroke-width="1"/>
<line x1="50.5" y1="425.8" x2="50.5" y2="429.3" stroke="#4a4a4a" stroke-width="1"/>
<text transform="translate(50.5,437.8) scale(1,1)" font-size="6.5" text-anchor="middle" fill="#1c1c1c" stroke="#1c1c1c" stroke-width="0.22" font-family='"Liberation Sans", sans-serif' >25</text>
<line x1="80.64" y1="425.8" x2="80.64" y2="429.3" stroke="#4a4a4a" stroke-width="1"/>
<text transform="translate(80.64,437.8) scale(1,1)" font-size="6.5" text-anchor="middle" fill="#1c1c1c" stroke="#1c1c1c" stroke-width="0.22" font-family='"Liberation Sans", sans-serif' >50</text>
<line x1="110.78" y1="425.8" x2="110.78" y2="429.3" stroke="#4a4a4a" stroke-width="1"/>
<text transform="translate(110.78,437.8) scale(1,1)" font-size="6.5" text-anchor="middle" fill="#1c1c1c" stroke="#1c1c1c" stroke-width="0.22" font-family='"Liberation Sans", sans-serif' >75</text>
<line x1="140.93" y1="425.8" x2="140.93" y2="429.3" stroke="#4a4a4a" stroke-width="1"/>
<text transform="translate(140.93,437.8) scale(1,1)" font-size="6.5" text-anchor="middle" fill="#1c1c1c" stroke="#1c1c1c" stroke-width="0.22" font-family='"Liberation Sans", sans-serif' >100</text>
<line x1="171.07" y1="425.8" x2="171.07" y2="429.3" stroke="#4a4a4a" stroke-width="1"/>
<text transform="translate(171.07,437.8) scale(1,1)" font-size="6.5" text-anchor="middle" fill="#1c1c1c" stroke="#1c1c1c" stroke-width="0.22" font-family='"Liberation Sans", sans-serif' >125</text>
<line x1="201.21" y1="425.8" x2="201.21" y2="429.3" stroke="#4a4a4a" stroke-width="1"/>
<text transform="translate(201.21,437.8) scale(1,1)" font-size="6.5" text-anchor="middle" fill="#1c1c1c" stroke="#1c1c1c" stroke-width="0.22" font-family='"Liberation Sans", sans-serif' >150</text>
<line x1="231.35" y1="425.8" x2="231.35" y2="429.3" stroke="#4a4a4a" stroke-width="1"/>
<text transform="translate(231.35,437.8) scale(1,1)" font-size="6.5" text-anchor="middle" fill="#1c1c1c" stroke="#1c1c1c" stroke-width="0.22" font-family='"Liberation Sans", sans-serif' >175</text>
<line x1="261.5" y1="425.8" x2="261.5" y2="429.3" stroke="#4a4a4a" stroke-width="1"/>
<text transform="translate(261.5,437.8) scale(1,1)" font-size="6.5" text-anchor="middle" fill="#1c1c1c" stroke="#1c1c1c" stroke-width="0.22" font-family='"Liberation Sans", sans-serif' >200</text>
<line x1="65.57" y1="425.8" x2="65.57" y2="427.6" stroke="#4a4a4a" stroke-width="1"/>
<line x1="95.71" y1="425.8" x2="95.71" y2="427.6" stroke="#4a4a4a" stroke-width="1"/>
<line x1="125.86" y1="425.8" x2="125.86" y2="427.6" stroke="#4a4a4a" stroke-width="1"/>
<line x1="156" y1="425.8" x2="156" y2="427.6" stroke="#4a4a4a" stroke-width="1"/>
<line x1="186.14" y1="425.8" x2="186.14" y2="427.6" stroke="#4a4a4a" stroke-width="1"/>
<line x1="216.28" y1="425.8" x2="216.28" y2="427.6" stroke="#4a4a4a" stroke-width="1"/>
<line x1="246.43" y1="425.8" x2="246.43" y2="427.6" stroke="#4a4a4a" stroke-width="1"/>
<text transform="translate(159.4,451.1) scale(1,1.05)" font-size="7.9" text-anchor="middle" fill="#1c1c1c" stroke="#1c1c1c" stroke-width="0.22" font-family='"Liberation Sans", sans-serif' >Temperature [°C]</text>
<text transform="translate(15.6,329.1) rotate(-90)" font-size="8.1" text-anchor="middle" fill="#1c1c1c" stroke="#1c1c1c" stroke-width="0.22" font-family='"Liberation Sans", sans-serif'>G'' [MPa]</text>
<text transform="translate(8.3,241.4) scale(1.12,1.05)" font-size="20" text-anchor="start" fill="#111" stroke="#111" stroke-width="0.3" font-family='"Liberation Serif", serif' >b</text>
<polyline points="44,408 82,407.5 103.6,404.5 121.8,401 140,395.5 156,387 160,381 163.5,370 166.3,352 168.2,330 170,300 172.5,280 175.3,265.5 179.6,276.5 181.2,300 184.6,317 188.5,339.2 192.5,362.7 197.7,386.3 202.9,402 206.8,409.8 215,414.5 264.2,415.6" fill="none" stroke="#1e1e1e" stroke-width="1.3" stroke-linejoin="round"/>
<polyline points="44,408 82,407.8 103.6,405 121.8,401.5 140,396 156,389 164.3,382 168.9,368 170.8,355 172.8,339.2 176.8,300 179.6,261.2 183.6,244.8 187.3,289.5 188,300 191.1,326 193.8,352.3 196.9,375.8 201.6,396.7 208.1,409.8 215,414.5 264.2,415.6" fill="none" stroke="#dd2a2a" stroke-width="1.3" stroke-linejoin="round"/>
<polyline points="44,408 82,408.2 96,404.5 104,400 112,394.5 117.5,387.5 122,377 126.2,359.6 131,335 134.5,305 137.9,287.9 142.5,300 147.5,332.6 151.8,354.3 156,371.7 160.5,382.6 166,389 170,390.5 181.5,385.5 186,396 191,405 195.5,410.3 201.5,414 214.7,414.8 264.2,415.6" fill="none" stroke="#3fdde6" stroke-width="1.6" stroke-linejoin="round"/>
<polyline points="44,408 82,408.2 96.7,405 105.5,399.7 113.3,394.5 118.5,387.5 122.9,377 127.2,359.6 130.7,330 133.3,312 137.6,281 143,300 148.5,332.6 152.8,354.3 157.2,371.7 161.5,382.6 167,391 171.5,395.5 181,388.5 186,397 191,405.5 195.5,410.5 201.5,414 214.7,414.8 264.2,415.6" fill="none" stroke="#e03ee0" stroke-width="1.6" stroke-linejoin="round"/>
<polyline points="44,407.8 82,408 95,403.2 102,399.7 109.8,394.5 115.6,387.5 120.8,377 124.3,359.6 128.1,330 129,322.6 132.1,281 137.6,269.9 142,300 146,332.6 150,354.3 154.3,371.7 159.3,382.6 165.9,391.3 169.5,392 179.4,362.2 183.8,377.1 187.2,394.5 191.1,404.5 195,410 201,413.8 214.7,414.8 264.2,415.6" fill="none" stroke="#2b2bd6" stroke-width="1.4" stroke-linejoin="round"/>
<circle cx="44" cy="408" r="1.15" fill="#fff" stroke="#1e1e1e" stroke-width="0.5"/>
<circle cx="48.5" cy="407.94" r="1.15" fill="#fff" stroke="#1e1e1e" stroke-width="0.5"/>
<circle cx="53" cy="407.88" r="1.15" fill="#fff" stroke="#1e1e1e" stroke-width="0.5"/>
<circle cx="57.5" cy="407.82" r="1.15" fill="#fff" stroke="#1e1e1e" stroke-width="0.5"/>
<circle cx="62" cy="407.76" r="1.15" fill="#fff" stroke="#1e1e1e" stroke-width="0.5"/>
<circle cx="66.5" cy="407.7" r="1.15" fill="#fff" stroke="#1e1e1e" stroke-width="0.5"/>
<circle cx="71" cy="407.64" r="1.15" fill="#fff" stroke="#1e1e1e" stroke-width="0.5"/>
<circle cx="75.5" cy="407.59" r="1.15" fill="#fff" stroke="#1e1e1e" stroke-width="0.5"/>
<circle cx="80" cy="407.53" r="1.15" fill="#fff" stroke="#1e1e1e" stroke-width="0.5"/>
<circle cx="84.5" cy="407.15" r="1.15" fill="#fff" stroke="#1e1e1e" stroke-width="0.5"/>
<circle cx="89" cy="406.53" r="1.15" fill="#fff" stroke="#1e1e1e" stroke-width="0.5"/>
<circle cx="93.5" cy="405.9" r="1.15" fill="#fff" stroke="#1e1e1e" stroke-width="0.5"/>
<circle cx="98" cy="405.28" r="1.15" fill="#fff" stroke="#1e1e1e" stroke-width="0.5"/>
<circle cx="102.5" cy="404.65" r="1.15" fill="#fff" stroke="#1e1e1e" stroke-width="0.5"/>
<circle cx="107" cy="403.85" r="1.15" fill="#fff" stroke="#1e1e1e" stroke-width="0.5"/>
<circle cx="111.5" cy="402.98" r="1.15" fill="#fff" stroke="#1e1e1e" stroke-width="0.5"/>
<circle cx="116" cy="402.12" r="1.15" fill="#fff" stroke="#1e1e1e" stroke-width="0.5"/>
<circle cx="120.5" cy="401.25" r="1.15" fill="#fff" stroke="#1e1e1e" stroke-width="0.5"/>
<circle cx="125" cy="400.03" r="1.15" fill="#fff" stroke="#1e1e1e" stroke-width="0.5"/>
<circle cx="129.5" cy="398.67" r="1.15" fill="#fff" stroke="#1e1e1e" stroke-width="0.5"/>
<circle cx="134" cy="397.31" r="1.15" fill="#fff" stroke="#1e1e1e" stroke-width="0.5"/>
<circle cx="138.5" cy="395.95" r="1.15" fill="#fff" stroke="#1e1e1e" stroke-width="0.5"/>
<circle cx="143" cy="393.91" r="1.15" fill="#fff" stroke="#1e1e1e" stroke-width="0.5"/>
<circle cx="147.5" cy="391.52" r="1.15" fill="#fff" stroke="#1e1e1e" stroke-width="0.5"/>
<circle cx="152" cy="389.12" r="1.15" fill="#fff" stroke="#1e1e1e" stroke-width="0.5"/>
<circle cx="156.5" cy="386.25" r="1.15" fill="#fff" stroke="#1e1e1e" stroke-width="0.5"/>
<circle cx="161" cy="377.86" r="1.15" fill="#fff" stroke="#1e1e1e" stroke-width="0.5"/>
<circle cx="165.5" cy="357.14" r="1.15" fill="#fff" stroke="#1e1e1e" stroke-width="0.5"/>
<circle cx="170" cy="300" r="1.15" fill="#fff" stroke="#1e1e1e" stroke-width="0.5"/>
<circle cx="174.5" cy="269.64" r="1.15" fill="#fff" stroke="#1e1e1e" stroke-width="0.5"/>
<circle cx="179" cy="274.97" r="1.15" fill="#fff" stroke="#1e1e1e" stroke-width="0.5"/>
<circle cx="183.5" cy="311.5" r="1.15" fill="#fff" stroke="#1e1e1e" stroke-width="0.5"/>
<circle cx="188" cy="336.35" r="1.15" fill="#fff" stroke="#1e1e1e" stroke-width="0.5"/>
<circle cx="192.5" cy="362.7" r="1.15" fill="#fff" stroke="#1e1e1e" stroke-width="0.5"/>
<circle cx="197" cy="383.12" r="1.15" fill="#fff" stroke="#1e1e1e" stroke-width="0.5"/>
<circle cx="201.5" cy="397.77" r="1.15" fill="#fff" stroke="#1e1e1e" stroke-width="0.5"/>
<circle cx="206" cy="408.2" r="1.15" fill="#fff" stroke="#1e1e1e" stroke-width="0.5"/>
<circle cx="210.5" cy="411.92" r="1.15" fill="#fff" stroke="#1e1e1e" stroke-width="0.5"/>
<circle cx="215" cy="414.5" r="1.15" fill="#fff" stroke="#1e1e1e" stroke-width="0.5"/>
<circle cx="219.5" cy="414.6" r="1.15" fill="#fff" stroke="#1e1e1e" stroke-width="0.5"/>
<circle cx="224" cy="414.7" r="1.15" fill="#fff" stroke="#1e1e1e" stroke-width="0.5"/>
<circle cx="228.5" cy="414.8" r="1.15" fill="#fff" stroke="#1e1e1e" stroke-width="0.5"/>
<circle cx="233" cy="414.9" r="1.15" fill="#fff" stroke="#1e1e1e" stroke-width="0.5"/>
<circle cx="237.5" cy="415" r="1.15" fill="#fff" stroke="#1e1e1e" stroke-width="0.5"/>
<circle cx="242" cy="415.1" r="1.15" fill="#fff" stroke="#1e1e1e" stroke-width="0.5"/>
<circle cx="246.5" cy="415.2" r="1.15" fill="#fff" stroke="#1e1e1e" stroke-width="0.5"/>
<circle cx="251" cy="415.3" r="1.15" fill="#fff" stroke="#1e1e1e" stroke-width="0.5"/>
<circle cx="255.5" cy="415.41" r="1.15" fill="#fff" stroke="#1e1e1e" stroke-width="0.5"/>
<circle cx="260" cy="415.51" r="1.15" fill="#fff" stroke="#1e1e1e" stroke-width="0.5"/>
<circle cx="264.5" cy="415.6" r="1.15" fill="#fff" stroke="#1e1e1e" stroke-width="0.5"/>
<circle cx="44" cy="408" r="1.15" fill="#fff" stroke="#dd2a2a" stroke-width="0.5"/>
<circle cx="48.5" cy="407.98" r="1.15" fill="#fff" stroke="#dd2a2a" stroke-width="0.5"/>
<circle cx="53" cy="407.95" r="1.15" fill="#fff" stroke="#dd2a2a" stroke-width="0.5"/>
<circle cx="57.5" cy="407.93" r="1.15" fill="#fff" stroke="#dd2a2a" stroke-width="0.5"/>
<circle cx="62" cy="407.91" r="1.15" fill="#fff" stroke="#dd2a2a" stroke-width="0.5"/>
<circle cx="66.5" cy="407.88" r="1.15" fill="#fff" stroke="#dd2a2a" stroke-width="0.5"/>
<circle cx="71" cy="407.86" r="1.15" fill="#fff" stroke="#dd2a2a" stroke-width="0.5"/>
<circle cx="75.5" cy="407.83" r="1.15" fill="#fff" stroke="#dd2a2a" stroke-width="0.5"/>
<circle cx="80" cy="407.81" r="1.15" fill="#fff" stroke="#dd2a2a" stroke-width="0.5"/>
<circle cx="84.5" cy="407.48" r="1.15" fill="#fff" stroke="#dd2a2a" stroke-width="0.5"/>
<circle cx="89" cy="406.89" r="1.15" fill="#fff" stroke="#dd2a2a" stroke-width="0.5"/>
<circle cx="93.5" cy="406.31" r="1.15" fill="#fff" stroke="#dd2a2a" stroke-width="0.5"/>
<circle cx="98" cy="405.73" r="1.15" fill="#fff" stroke="#dd2a2a" stroke-width="0.5"/>
<circle cx="102.5" cy="405.14" r="1.15" fill="#fff" stroke="#dd2a2a" stroke-width="0.5"/>
<circle cx="107" cy="404.35" r="1.15" fill="#fff" stroke="#dd2a2a" stroke-width="0.5"/>
<circle cx="111.5" cy="403.48" r="1.15" fill="#fff" stroke="#dd2a2a" stroke-width="0.5"/>
<circle cx="116" cy="402.62" r="1.15" fill="#fff" stroke="#dd2a2a" stroke-width="0.5"/>
<circle cx="120.5" cy="401.75" r="1.15" fill="#fff" stroke="#dd2a2a" stroke-width="0.5"/>
<circle cx="125" cy="400.53" r="1.15" fill="#fff" stroke="#dd2a2a" stroke-width="0.5"/>
<circle cx="129.5" cy="399.17" r="1.15" fill="#fff" stroke="#dd2a2a" stroke-width="0.5"/>
<circle cx="134" cy="397.81" r="1.15" fill="#fff" stroke="#dd2a2a" stroke-width="0.5"/>
<circle cx="138.5" cy="396.45" r="1.15" fill="#fff" stroke="#dd2a2a" stroke-width="0.5"/>
<circle cx="143" cy="394.69" r="1.15" fill="#fff" stroke="#dd2a2a" stroke-width="0.5"/>
<circle cx="147.5" cy="392.72" r="1.15" fill="#fff" stroke="#dd2a2a" stroke-width="0.5"/>
<circle cx="152" cy="390.75" r="1.15" fill="#fff" stroke="#dd2a2a" stroke-width="0.5"/>
<circle cx="156.5" cy="388.58" r="1.15" fill="#fff" stroke="#dd2a2a" stroke-width="0.5"/>
<circle cx="161" cy="384.78" r="1.15" fill="#fff" stroke="#dd2a2a" stroke-width="0.5"/>
<circle cx="165.5" cy="378.35" r="1.15" fill="#fff" stroke="#dd2a2a" stroke-width="0.5"/>
<circle cx="170" cy="360.47" r="1.15" fill="#fff" stroke="#dd2a2a" stroke-width="0.5"/>
<circle cx="174.5" cy="322.54" r="1.15" fill="#fff" stroke="#dd2a2a" stroke-width="0.5"/>
<circle cx="179" cy="269.51" r="1.15" fill="#fff" stroke="#dd2a2a" stroke-width="0.5"/>
<circle cx="183.5" cy="245.21" r="1.15" fill="#fff" stroke="#dd2a2a" stroke-width="0.5"/>
<circle cx="188" cy="300" r="1.15" fill="#fff" stroke="#dd2a2a" stroke-width="0.5"/>
<circle cx="192.5" cy="339.64" r="1.15" fill="#fff" stroke="#dd2a2a" stroke-width="0.5"/>
<circle cx="197" cy="376.24" r="1.15" fill="#fff" stroke="#dd2a2a" stroke-width="0.5"/>
<circle cx="201.5" cy="396.26" r="1.15" fill="#fff" stroke="#dd2a2a" stroke-width="0.5"/>
<circle cx="206" cy="405.57" r="1.15" fill="#fff" stroke="#dd2a2a" stroke-width="0.5"/>
<circle cx="210.5" cy="411.43" r="1.15" fill="#fff" stroke="#dd2a2a" stroke-width="0.5"/>
<circle cx="215" cy="414.5" r="1.15" fill="#fff" stroke="#dd2a2a" stroke-width="0.5"/>
<circle cx="219.5" cy="414.6" r="1.15" fill="#fff" stroke="#dd2a2a" stroke-width="0.5"/>
<circle cx="224" cy="414.7" r="1.15" fill="#fff" stroke="#dd2a2a" stroke-width="0.5"/>
<circle cx="228.5" cy="414.8" r="1.15" fill="#fff" stroke="#dd2a2a" stroke-width="0.5"/>
<circle cx="233" cy="414.9" r="1.15" fill="#fff" stroke="#dd2a2a" stroke-width="0.5"/>
<circle cx="237.5" cy="415" r="1.15" fill="#fff" stroke="#dd2a2a" stroke-width="0.5"/>
<circle cx="242" cy="415.1" r="1.15" fill="#fff" stroke="#dd2a2a" stroke-width="0.5"/>
<circle cx="246.5" cy="415.2" r="1.15" fill="#fff" stroke="#dd2a2a" stroke-width="0.5"/>
<circle cx="251" cy="415.3" r="1.15" fill="#fff" stroke="#dd2a2a" stroke-width="0.5"/>
<circle cx="255.5" cy="415.41" r="1.15" fill="#fff" stroke="#dd2a2a" stroke-width="0.5"/>
<circle cx="260" cy="415.51" r="1.15" fill="#fff" stroke="#dd2a2a" stroke-width="0.5"/>
<circle cx="264.5" cy="415.6" r="1.15" fill="#fff" stroke="#dd2a2a" stroke-width="0.5"/>
<circle cx="44" cy="408" r="1.15" fill="#fff" stroke="#3fdde6" stroke-width="0.5"/>
<circle cx="48.5" cy="408.02" r="1.15" fill="#fff" stroke="#3fdde6" stroke-width="0.5"/>
<circle cx="53" cy="408.05" r="1.15" fill="#fff" stroke="#3fdde6" stroke-width="0.5"/>
<circle cx="57.5" cy="408.07" r="1.15" fill="#fff" stroke="#3fdde6" stroke-width="0.5"/>
<circle cx="62" cy="408.09" r="1.15" fill="#fff" stroke="#3fdde6" stroke-width="0.5"/>
<circle cx="66.5" cy="408.12" r="1.15" fill="#fff" stroke="#3fdde6" stroke-width="0.5"/>
<circle cx="71" cy="408.14" r="1.15" fill="#fff" stroke="#3fdde6" stroke-width="0.5"/>
<circle cx="75.5" cy="408.17" r="1.15" fill="#fff" stroke="#3fdde6" stroke-width="0.5"/>
<circle cx="80" cy="408.19" r="1.15" fill="#fff" stroke="#3fdde6" stroke-width="0.5"/>
<circle cx="84.5" cy="407.54" r="1.15" fill="#fff" stroke="#3fdde6" stroke-width="0.5"/>
<circle cx="89" cy="406.35" r="1.15" fill="#fff" stroke="#3fdde6" stroke-width="0.5"/>
<circle cx="93.5" cy="405.16" r="1.15" fill="#fff" stroke="#3fdde6" stroke-width="0.5"/>
<circle cx="98" cy="403.38" r="1.15" fill="#fff" stroke="#3fdde6" stroke-width="0.5"/>
<circle cx="102.5" cy="400.84" r="1.15" fill="#fff" stroke="#3fdde6" stroke-width="0.5"/>
<circle cx="107" cy="397.94" r="1.15" fill="#fff" stroke="#3fdde6" stroke-width="0.5"/>
<circle cx="111.5" cy="394.84" r="1.15" fill="#fff" stroke="#3fdde6" stroke-width="0.5"/>
<circle cx="116" cy="389.41" r="1.15" fill="#fff" stroke="#3fdde6" stroke-width="0.5"/>
<circle cx="120.5" cy="380.5" r="1.15" fill="#fff" stroke="#3fdde6" stroke-width="0.5"/>
<circle cx="125" cy="364.57" r="1.15" fill="#fff" stroke="#3fdde6" stroke-width="0.5"/>
<circle cx="129.5" cy="342.69" r="1.15" fill="#fff" stroke="#3fdde6" stroke-width="0.5"/>
<circle cx="134" cy="309.29" r="1.15" fill="#fff" stroke="#3fdde6" stroke-width="0.5"/>
<circle cx="138.5" cy="289.48" r="1.15" fill="#fff" stroke="#3fdde6" stroke-width="0.5"/>
<circle cx="143" cy="303.26" r="1.15" fill="#fff" stroke="#3fdde6" stroke-width="0.5"/>
<circle cx="147.5" cy="332.6" r="1.15" fill="#fff" stroke="#3fdde6" stroke-width="0.5"/>
<circle cx="152" cy="355.13" r="1.15" fill="#fff" stroke="#3fdde6" stroke-width="0.5"/>
<circle cx="156.5" cy="372.91" r="1.15" fill="#fff" stroke="#3fdde6" stroke-width="0.5"/>
<circle cx="161" cy="383.18" r="1.15" fill="#fff" stroke="#3fdde6" stroke-width="0.5"/>
<circle cx="165.5" cy="388.42" r="1.15" fill="#fff" stroke="#3fdde6" stroke-width="0.5"/>
<circle cx="170" cy="390.5" r="1.15" fill="#fff" stroke="#3fdde6" stroke-width="0.5"/>
<circle cx="174.5" cy="388.54" r="1.15" fill="#fff" stroke="#3fdde6" stroke-width="0.5"/>
<circle cx="179" cy="386.59" r="1.15" fill="#fff" stroke="#3fdde6" stroke-width="0.5"/>
<circle cx="183.5" cy="390.17" r="1.15" fill="#fff" stroke="#3fdde6" stroke-width="0.5"/>
<circle cx="188" cy="399.6" r="1.15" fill="#fff" stroke="#3fdde6" stroke-width="0.5"/>
<circle cx="192.5" cy="406.77" r="1.15" fill="#fff" stroke="#3fdde6" stroke-width="0.5"/>
<circle cx="197" cy="411.23" r="1.15" fill="#fff" stroke="#3fdde6" stroke-width="0.5"/>
<circle cx="201.5" cy="414" r="1.15" fill="#fff" stroke="#3fdde6" stroke-width="0.5"/>
<circle cx="206" cy="414.27" r="1.15" fill="#fff" stroke="#3fdde6" stroke-width="0.5"/>
<circle cx="210.5" cy="414.55" r="1.15" fill="#fff" stroke="#3fdde6" stroke-width="0.5"/>
<circle cx="215" cy="414.8" r="1.15" fill="#fff" stroke="#3fdde6" stroke-width="0.5"/>
<circle cx="219.5" cy="414.88" r="1.15" fill="#fff" stroke="#3fdde6" stroke-width="0.5"/>
<circle cx="224" cy="414.95" r="1.15" fill="#fff" stroke="#3fdde6" stroke-width="0.5"/>
<circle cx="228.5" cy="415.02" r="1.15" fill="#fff" stroke="#3fdde6" stroke-width="0.5"/>
<circle cx="233" cy="415.1" r="1.15" fill="#fff" stroke="#3fdde6" stroke-width="0.5"/>
<circle cx="237.5" cy="415.17" r="1.15" fill="#fff" stroke="#3fdde6" stroke-width="0.5"/>
<circle cx="242" cy="415.24" r="1.15" fill="#fff" stroke="#3fdde6" stroke-width="0.5"/>
<circle cx="246.5" cy="415.31" r="1.15" fill="#fff" stroke="#3fdde6" stroke-width="0.5"/>
<circle cx="251" cy="415.39" r="1.15" fill="#fff" stroke="#3fdde6" stroke-width="0.5"/>
<circle cx="255.5" cy="415.46" r="1.15" fill="#fff" stroke="#3fdde6" stroke-width="0.5"/>
<circle cx="260" cy="415.53" r="1.15" fill="#fff" stroke="#3fdde6" stroke-width="0.5"/>
<circle cx="264.5" cy="415.6" r="1.15" fill="#fff" stroke="#3fdde6" stroke-width="0.5"/>
<circle cx="44" cy="408" r="1.15" fill="#fff" stroke="#e03ee0" stroke-width="0.5"/>
<circle cx="48.5" cy="408.02" r="1.15" fill="#fff" stroke="#e03ee0" stroke-width="0.5"/>
<circle cx="53" cy="408.05" r="1.15" fill="#fff" stroke="#e03ee0" stroke-width="0.5"/>
<circle cx="57.5" cy="408.07" r="1.15" fill="#fff" stroke="#e03ee0" stroke-width="0.5"/>
<circle cx="62" cy="408.09" r="1.15" fill="#fff" stroke="#e03ee0" stroke-width="0.5"/>
<circle cx="66.5" cy="408.12" r="1.15" fill="#fff" stroke="#e03ee0" stroke-width="0.5"/>
<circle cx="71" cy="408.14" r="1.15" fill="#fff" stroke="#e03ee0" stroke-width="0.5"/>
<circle cx="75.5" cy="408.17" r="1.15" fill="#fff" stroke="#e03ee0" stroke-width="0.5"/>
<circle cx="80" cy="408.19" r="1.15" fill="#fff" stroke="#e03ee0" stroke-width="0.5"/>
<circle cx="84.5" cy="407.66" r="1.15" fill="#fff" stroke="#e03ee0" stroke-width="0.5"/>
<circle cx="89" cy="406.68" r="1.15" fill="#fff" stroke="#e03ee0" stroke-width="0.5"/>
<circle cx="93.5" cy="405.7" r="1.15" fill="#fff" stroke="#e03ee0" stroke-width="0.5"/>
<circle cx="98" cy="404.22" r="1.15" fill="#fff" stroke="#e03ee0" stroke-width="0.5"/>
<circle cx="102.5" cy="401.51" r="1.15" fill="#fff" stroke="#e03ee0" stroke-width="0.5"/>
<circle cx="107" cy="398.7" r="1.15" fill="#fff" stroke="#e03ee0" stroke-width="0.5"/>
<circle cx="111.5" cy="395.7" r="1.15" fill="#fff" stroke="#e03ee0" stroke-width="0.5"/>
<circle cx="116" cy="390.87" r="1.15" fill="#fff" stroke="#e03ee0" stroke-width="0.5"/>
<circle cx="120.5" cy="382.73" r="1.15" fill="#fff" stroke="#e03ee0" stroke-width="0.5"/>
<circle cx="125" cy="368.5" r="1.15" fill="#fff" stroke="#e03ee0" stroke-width="0.5"/>
<circle cx="129.5" cy="340.15" r="1.15" fill="#fff" stroke="#e03ee0" stroke-width="0.5"/>
<circle cx="134" cy="306.95" r="1.15" fill="#fff" stroke="#e03ee0" stroke-width="0.5"/>
<circle cx="138.5" cy="284.17" r="1.15" fill="#fff" stroke="#e03ee0" stroke-width="0.5"/>
<circle cx="143" cy="300" r="1.15" fill="#fff" stroke="#e03ee0" stroke-width="0.5"/>
<circle cx="147.5" cy="326.67" r="1.15" fill="#fff" stroke="#e03ee0" stroke-width="0.5"/>
<circle cx="152" cy="350.26" r="1.15" fill="#fff" stroke="#e03ee0" stroke-width="0.5"/>
<circle cx="156.5" cy="368.93" r="1.15" fill="#fff" stroke="#e03ee0" stroke-width="0.5"/>
<circle cx="161" cy="381.33" r="1.15" fill="#fff" stroke="#e03ee0" stroke-width="0.5"/>
<circle cx="165.5" cy="388.71" r="1.15" fill="#fff" stroke="#e03ee0" stroke-width="0.5"/>
<circle cx="170" cy="394" r="1.15" fill="#fff" stroke="#e03ee0" stroke-width="0.5"/>
<circle cx="174.5" cy="393.29" r="1.15" fill="#fff" stroke="#e03ee0" stroke-width="0.5"/>
<circle cx="179" cy="389.97" r="1.15" fill="#fff" stroke="#e03ee0" stroke-width="0.5"/>
<circle cx="183.5" cy="392.75" r="1.15" fill="#fff" stroke="#e03ee0" stroke-width="0.5"/>
<circle cx="188" cy="400.4" r="1.15" fill="#fff" stroke="#e03ee0" stroke-width="0.5"/>
<circle cx="192.5" cy="407.17" r="1.15" fill="#fff" stroke="#e03ee0" stroke-width="0.5"/>
<circle cx="197" cy="411.38" r="1.15" fill="#fff" stroke="#e03ee0" stroke-width="0.5"/>
<circle cx="201.5" cy="414" r="1.15" fill="#fff" stroke="#e03ee0" stroke-width="0.5"/>
<circle cx="206" cy="414.27" r="1.15" fill="#fff" stroke="#e03ee0" stroke-width="0.5"/>
<circle cx="210.5" cy="414.55" r="1.15" fill="#fff" stroke="#e03ee0" stroke-width="0.5"/>
<circle cx="215" cy="414.8" r="1.15" fill="#fff" stroke="#e03ee0" stroke-width="0.5"/>
<circle cx="219.5" cy="414.88" r="1.15" fill="#fff" stroke="#e03ee0" stroke-width="0.5"/>
<circle cx="224" cy="414.95" r="1.15" fill="#fff" stroke="#e03ee0" stroke-width="0.5"/>
<circle cx="228.5" cy="415.02" r="1.15" fill="#fff" stroke="#e03ee0" stroke-width="0.5"/>
<circle cx="233" cy="415.1" r="1.15" fill="#fff" stroke="#e03ee0" stroke-width="0.5"/>
<circle cx="237.5" cy="415.17" r="1.15" fill="#fff" stroke="#e03ee0" stroke-width="0.5"/>
<circle cx="242" cy="415.24" r="1.15" fill="#fff" stroke="#e03ee0" stroke-width="0.5"/>
<circle cx="246.5" cy="415.31" r="1.15" fill="#fff" stroke="#e03ee0" stroke-width="0.5"/>
<circle cx="251" cy="415.39" r="1.15" fill="#fff" stroke="#e03ee0" stroke-width="0.5"/>
<circle cx="255.5" cy="415.46" r="1.15" fill="#fff" stroke="#e03ee0" stroke-width="0.5"/>
<circle cx="260" cy="415.53" r="1.15" fill="#fff" stroke="#e03ee0" stroke-width="0.5"/>
<circle cx="264.5" cy="415.6" r="1.15" fill="#fff" stroke="#e03ee0" stroke-width="0.5"/>
<circle cx="44" cy="407.8" r="1.15" fill="#fff" stroke="#2b2bd6" stroke-width="0.5"/>
<circle cx="48.5" cy="407.82" r="1.15" fill="#fff" stroke="#2b2bd6" stroke-width="0.5"/>
<circle cx="53" cy="407.85" r="1.15" fill="#fff" stroke="#2b2bd6" stroke-width="0.5"/>
<circle cx="57.5" cy="407.87" r="1.15" fill="#fff" stroke="#2b2bd6" stroke-width="0.5"/>
<circle cx="62" cy="407.89" r="1.15" fill="#fff" stroke="#2b2bd6" stroke-width="0.5"/>
<circle cx="66.5" cy="407.92" r="1.15" fill="#fff" stroke="#2b2bd6" stroke-width="0.5"/>
<circle cx="71" cy="407.94" r="1.15" fill="#fff" stroke="#2b2bd6" stroke-width="0.5"/>
<circle cx="75.5" cy="407.97" r="1.15" fill="#fff" stroke="#2b2bd6" stroke-width="0.5"/>
<circle cx="80" cy="407.99" r="1.15" fill="#fff" stroke="#2b2bd6" stroke-width="0.5"/>
<circle cx="84.5" cy="407.08" r="1.15" fill="#fff" stroke="#2b2bd6" stroke-width="0.5"/>
<circle cx="89" cy="405.42" r="1.15" fill="#fff" stroke="#2b2bd6" stroke-width="0.5"/>
<circle cx="93.5" cy="403.75" r="1.15" fill="#fff" stroke="#2b2bd6" stroke-width="0.5"/>
<circle cx="98" cy="401.7" r="1.15" fill="#fff" stroke="#2b2bd6" stroke-width="0.5"/>
<circle cx="102.5" cy="399.37" r="1.15" fill="#fff" stroke="#2b2bd6" stroke-width="0.5"/>
<circle cx="107" cy="396.37" r="1.15" fill="#fff" stroke="#2b2bd6" stroke-width="0.5"/>
<circle cx="111.5" cy="392.45" r="1.15" fill="#fff" stroke="#2b2bd6" stroke-width="0.5"/>
<circle cx="116" cy="386.69" r="1.15" fill="#fff" stroke="#2b2bd6" stroke-width="0.5"/>
<circle cx="120.5" cy="377.61" r="1.15" fill="#fff" stroke="#2b2bd6" stroke-width="0.5"/>
<circle cx="125" cy="354.15" r="1.15" fill="#fff" stroke="#2b2bd6" stroke-width="0.5"/>
<circle cx="129.5" cy="315.89" r="1.15" fill="#fff" stroke="#2b2bd6" stroke-width="0.5"/>
<circle cx="134" cy="277.17" r="1.15" fill="#fff" stroke="#2b2bd6" stroke-width="0.5"/>
<circle cx="138.5" cy="276.06" r="1.15" fill="#fff" stroke="#2b2bd6" stroke-width="0.5"/>
<circle cx="143" cy="308.15" r="1.15" fill="#fff" stroke="#2b2bd6" stroke-width="0.5"/>
<circle cx="147.5" cy="340.74" r="1.15" fill="#fff" stroke="#2b2bd6" stroke-width="0.5"/>
<circle cx="152" cy="362.39" r="1.15" fill="#fff" stroke="#2b2bd6" stroke-width="0.5"/>
<circle cx="156.5" cy="376.5" r="1.15" fill="#fff" stroke="#2b2bd6" stroke-width="0.5"/>
<circle cx="161" cy="384.84" r="1.15" fill="#fff" stroke="#2b2bd6" stroke-width="0.5"/>
<circle cx="165.5" cy="390.77" r="1.15" fill="#fff" stroke="#2b2bd6" stroke-width="0.5"/>
<circle cx="170" cy="390.49" r="1.15" fill="#fff" stroke="#2b2bd6" stroke-width="0.5"/>
<circle cx="174.5" cy="376.95" r="1.15" fill="#fff" stroke="#2b2bd6" stroke-width="0.5"/>
<circle cx="179" cy="363.4" r="1.15" fill="#fff" stroke="#2b2bd6" stroke-width="0.5"/>
<circle cx="183.5" cy="376.08" r="1.15" fill="#fff" stroke="#2b2bd6" stroke-width="0.5"/>
<circle cx="188" cy="396.55" r="1.15" fill="#fff" stroke="#2b2bd6" stroke-width="0.5"/>
<circle cx="192.5" cy="406.47" r="1.15" fill="#fff" stroke="#2b2bd6" stroke-width="0.5"/>
<circle cx="197" cy="411.27" r="1.15" fill="#fff" stroke="#2b2bd6" stroke-width="0.5"/>
<circle cx="201.5" cy="413.84" r="1.15" fill="#fff" stroke="#2b2bd6" stroke-width="0.5"/>
<circle cx="206" cy="414.16" r="1.15" fill="#fff" stroke="#2b2bd6" stroke-width="0.5"/>
<circle cx="210.5" cy="414.49" r="1.15" fill="#fff" stroke="#2b2bd6" stroke-width="0.5"/>
<circle cx="215" cy="414.8" r="1.15" fill="#fff" stroke="#2b2bd6" stroke-width="0.5"/>
<circle cx="219.5" cy="414.88" r="1.15" fill="#fff" stroke="#2b2bd6" stroke-width="0.5"/>
<circle cx="224" cy="414.95" r="1.15" fill="#fff" stroke="#2b2bd6" stroke-width="0.5"/>
<circle cx="228.5" cy="415.02" r="1.15" fill="#fff" stroke="#2b2bd6" stroke-width="0.5"/>
<circle cx="233" cy="415.1" r="1.15" fill="#fff" stroke="#2b2bd6" stroke-width="0.5"/>
<circle cx="237.5" cy="415.17" r="1.15" fill="#fff" stroke="#2b2bd6" stroke-width="0.5"/>
<circle cx="242" cy="415.24" r="1.15" fill="#fff" stroke="#2b2bd6" stroke-width="0.5"/>
<circle cx="246.5" cy="415.31" r="1.15" fill="#fff" stroke="#2b2bd6" stroke-width="0.5"/>
<circle cx="251" cy="415.39" r="1.15" fill="#fff" stroke="#2b2bd6" stroke-width="0.5"/>
<circle cx="255.5" cy="415.46" r="1.15" fill="#fff" stroke="#2b2bd6" stroke-width="0.5"/>
<circle cx="260" cy="415.53" r="1.15" fill="#fff" stroke="#2b2bd6" stroke-width="0.5"/>
<circle cx="264.5" cy="415.6" r="1.15" fill="#fff" stroke="#2b2bd6" stroke-width="0.5"/>
<line x1="49" y1="241.7" x2="65" y2="241.7" stroke="#555" stroke-width="1.3"/>
<circle cx="57" cy="241.7" r="1.4" fill="#fff" stroke="#ddd" stroke-width="0.4"/>
<text transform="translate(66.8,244.2) scale(1,1.05)" font-size="7" text-anchor="start" fill="#1c1c1c" stroke="#1c1c1c" stroke-width="0.22" font-family='"Liberation Sans", sans-serif' >EP</text>
<line x1="49" y1="250.5" x2="65" y2="250.5" stroke="#dd2a2a" stroke-width="1.3"/>
<circle cx="57" cy="250.5" r="1.4" fill="#fff" stroke="#ddd" stroke-width="0.4"/>
<text transform="translate(66.8,253) scale(1,1.05)" font-size="7" text-anchor="start" fill="#1c1c1c" stroke="#1c1c1c" stroke-width="0.22" font-family='"Liberation Sans", sans-serif' >EP/PC</text>
<line x1="49" y1="259.3" x2="65" y2="259.3" stroke="#3fdde6" stroke-width="1.6"/>
<circle cx="57" cy="259.3" r="1.4" fill="#fff" stroke="#ddd" stroke-width="0.4"/>
<text transform="translate(66.8,261.8) scale(1,1.05)" font-size="7" text-anchor="start" fill="#1c1c1c" stroke="#1c1c1c" stroke-width="0.22" font-family='"Liberation Sans", sans-serif' >EP/PC10BNP</text>
<line x1="49" y1="267.9" x2="65" y2="267.9" stroke="#e03ee0" stroke-width="1.6"/>
<circle cx="57" cy="267.9" r="1.4" fill="#fff" stroke="#ddd" stroke-width="0.4"/>
<text transform="translate(66.8,270.4) scale(1,1.05)" font-size="7" text-anchor="start" fill="#1c1c1c" stroke="#1c1c1c" stroke-width="0.22" font-family='"Liberation Sans", sans-serif' >EP/PC15BNP</text>
<line x1="49" y1="276.6" x2="65" y2="276.6" stroke="#2b2bd6" stroke-width="1.3"/>
<circle cx="57" cy="276.6" r="1.3" fill="#fff" stroke="#2b2bd6" stroke-width="0.5"/>
<text transform="translate(66.8,279.1) scale(1,1.05)" font-size="7" text-anchor="start" fill="#1c1c1c" stroke="#1c1c1c" stroke-width="0.22" font-family='"Liberation Sans", sans-serif' >EP/PC20BNP</text>
<line x1="313.3" y1="238.3" x2="313.3" y2="425" stroke="#4a4a4a" stroke-width="1"/>
<line x1="312.8" y1="425" x2="543.4" y2="425" stroke="#4a4a4a" stroke-width="1"/>
<line x1="309.8" y1="414.7" x2="313.3" y2="414.7" stroke="#4a4a4a" stroke-width="1"/>
<text transform="translate(306.8,417.04) scale(1,1)" font-size="6.5" text-anchor="end" fill="#1c1c1c" stroke="#1c1c1c" stroke-width="0.22" font-family='"Liberation Sans", sans-serif' >0</text>
<line x1="309.8" y1="395.1" x2="313.3" y2="395.1" stroke="#4a4a4a" stroke-width="1"/>
<text transform="translate(306.8,397.44) scale(1,1)" font-size="6.5" text-anchor="end" fill="#1c1c1c" stroke="#1c1c1c" stroke-width="0.22" font-family='"Liberation Sans", sans-serif' >20</text>
<line x1="309.8" y1="375.5" x2="313.3" y2="375.5" stroke="#4a4a4a" stroke-width="1"/>
<text transform="translate(306.8,377.84) scale(1,1)" font-size="6.5" text-anchor="end" fill="#1c1c1c" stroke="#1c1c1c" stroke-width="0.22" font-family='"Liberation Sans", sans-serif' >40</text>
<line x1="309.8" y1="355.9" x2="313.3" y2="355.9" stroke="#4a4a4a" stroke-width="1"/>
<text transform="translate(306.8,358.24) scale(1,1)" font-size="6.5" text-anchor="end" fill="#1c1c1c" stroke="#1c1c1c" stroke-width="0.22" font-family='"Liberation Sans", sans-serif' >60</text>
<line x1="309.8" y1="336.3" x2="313.3" y2="336.3" stroke="#4a4a4a" stroke-width="1"/>
<text transform="translate(306.8,338.64) scale(1,1)" font-size="6.5" text-anchor="end" fill="#1c1c1c" stroke="#1c1c1c" stroke-width="0.22" font-family='"Liberation Sans", sans-serif' >80</text>
<line x1="309.8" y1="316.7" x2="313.3" y2="316.7" stroke="#4a4a4a" stroke-width="1"/>
<text transform="translate(306.8,319.04) scale(1,1)" font-size="6.5" text-anchor="end" fill="#1c1c1c" stroke="#1c1c1c" stroke-width="0.22" font-family='"Liberation Sans", sans-serif' >100</text>
<line x1="309.8" y1="297.1" x2="313.3" y2="297.1" stroke="#4a4a4a" stroke-width="1"/>
<text transform="translate(306.8,299.44) scale(1,1)" font-size="6.5" text-anchor="end" fill="#1c1c1c" stroke="#1c1c1c" stroke-width="0.22" font-family='"Liberation Sans", sans-serif' >120</text>
<line x1="309.8" y1="277.5" x2="313.3" y2="277.5" stroke="#4a4a4a" stroke-width="1"/>
<text transform="translate(306.8,279.84) scale(1,1)" font-size="6.5" text-anchor="end" fill="#1c1c1c" stroke="#1c1c1c" stroke-width="0.22" font-family='"Liberation Sans", sans-serif' >140</text>
<line x1="309.8" y1="257.9" x2="313.3" y2="257.9" stroke="#4a4a4a" stroke-width="1"/>
<text transform="translate(306.8,260.24) scale(1,1)" font-size="6.5" text-anchor="end" fill="#1c1c1c" stroke="#1c1c1c" stroke-width="0.22" font-family='"Liberation Sans", sans-serif' >160</text>
<line x1="309.8" y1="238.3" x2="313.3" y2="238.3" stroke="#4a4a4a" stroke-width="1"/>
<text transform="translate(306.8,240.64) scale(1,1)" font-size="6.5" text-anchor="end" fill="#1c1c1c" stroke="#1c1c1c" stroke-width="0.22" font-family='"Liberation Sans", sans-serif' >180</text>
<line x1="311.5" y1="404.9" x2="313.3" y2="404.9" stroke="#4a4a4a" stroke-width="1"/>
<line x1="311.5" y1="385.3" x2="313.3" y2="385.3" stroke="#4a4a4a" stroke-width="1"/>
<line x1="311.5" y1="365.7" x2="313.3" y2="365.7" stroke="#4a4a4a" stroke-width="1"/>
<line x1="311.5" y1="346.1" x2="313.3" y2="346.1" stroke="#4a4a4a" stroke-width="1"/>
<line x1="311.5" y1="326.5" x2="313.3" y2="326.5" stroke="#4a4a4a" stroke-width="1"/>
<line x1="311.5" y1="306.9" x2="313.3" y2="306.9" stroke="#4a4a4a" stroke-width="1"/>
<line x1="311.5" y1="287.3" x2="313.3" y2="287.3" stroke="#4a4a4a" stroke-width="1"/>
<line x1="311.5" y1="267.7" x2="313.3" y2="267.7" stroke="#4a4a4a" stroke-width="1"/>
<line x1="311.5" y1="248.1" x2="313.3" y2="248.1" stroke="#4a4a4a" stroke-width="1"/>
<line x1="319.1" y1="425" x2="319.1" y2="428.5" stroke="#4a4a4a" stroke-width="1"/>
<text transform="translate(319.1,437) scale(1,1)" font-size="6.5" text-anchor="middle" fill="#1c1c1c" stroke="#1c1c1c" stroke-width="0.22" font-family='"Liberation Sans", sans-serif' >25</text>
<line x1="349.39" y1="425" x2="349.39" y2="428.5" stroke="#4a4a4a" stroke-width="1"/>
<text transform="translate(349.39,437) scale(1,1)" font-size="6.5" text-anchor="middle" fill="#1c1c1c" stroke="#1c1c1c" stroke-width="0.22" font-family='"Liberation Sans", sans-serif' >50</text>
<line x1="379.67" y1="425" x2="379.67" y2="428.5" stroke="#4a4a4a" stroke-width="1"/>
<text transform="translate(379.67,437) scale(1,1)" font-size="6.5" text-anchor="middle" fill="#1c1c1c" stroke="#1c1c1c" stroke-width="0.22" font-family='"Liberation Sans", sans-serif' >75</text>
<line x1="409.96" y1="425" x2="409.96" y2="428.5" stroke="#4a4a4a" stroke-width="1"/>
<text transform="translate(409.96,437) scale(1,1)" font-size="6.5" text-anchor="middle" fill="#1c1c1c" stroke="#1c1c1c" stroke-width="0.22" font-family='"Liberation Sans", sans-serif' >100</text>
<line x1="440.24" y1="425" x2="440.24" y2="428.5" stroke="#4a4a4a" stroke-width="1"/>
<text transform="translate(440.24,437) scale(1,1)" font-size="6.5" text-anchor="middle" fill="#1c1c1c" stroke="#1c1c1c" stroke-width="0.22" font-family='"Liberation Sans", sans-serif' >125</text>
<line x1="470.53" y1="425" x2="470.53" y2="428.5" stroke="#4a4a4a" stroke-width="1"/>
<text transform="translate(470.53,437) scale(1,1)" font-size="6.5" text-anchor="middle" fill="#1c1c1c" stroke="#1c1c1c" stroke-width="0.22" font-family='"Liberation Sans", sans-serif' >150</text>
<line x1="500.81" y1="425" x2="500.81" y2="428.5" stroke="#4a4a4a" stroke-width="1"/>
<text transform="translate(500.81,437) scale(1,1)" font-size="6.5" text-anchor="middle" fill="#1c1c1c" stroke="#1c1c1c" stroke-width="0.22" font-family='"Liberation Sans", sans-serif' >175</text>
<line x1="531.1" y1="425" x2="531.1" y2="428.5" stroke="#4a4a4a" stroke-width="1"/>
<text transform="translate(531.1,437) scale(1,1)" font-size="6.5" text-anchor="middle" fill="#1c1c1c" stroke="#1c1c1c" stroke-width="0.22" font-family='"Liberation Sans", sans-serif' >200</text>
<line x1="334.24" y1="425" x2="334.24" y2="426.8" stroke="#4a4a4a" stroke-width="1"/>
<line x1="364.53" y1="425" x2="364.53" y2="426.8" stroke="#4a4a4a" stroke-width="1"/>
<line x1="394.81" y1="425" x2="394.81" y2="426.8" stroke="#4a4a4a" stroke-width="1"/>
<line x1="425.1" y1="425" x2="425.1" y2="426.8" stroke="#4a4a4a" stroke-width="1"/>
<line x1="455.38" y1="425" x2="455.38" y2="426.8" stroke="#4a4a4a" stroke-width="1"/>
<line x1="485.67" y1="425" x2="485.67" y2="426.8" stroke="#4a4a4a" stroke-width="1"/>
<line x1="515.95" y1="425" x2="515.95" y2="426.8" stroke="#4a4a4a" stroke-width="1"/>
<text transform="translate(428.4,450.8) scale(1,1.05)" font-size="7.9" text-anchor="middle" fill="#1c1c1c" stroke="#1c1c1c" stroke-width="0.22" font-family='"Liberation Sans", sans-serif' >Temperature [°C]</text>
<text transform="translate(287.6,327.8) rotate(-90)" font-size="8.1" text-anchor="middle" fill="#1c1c1c" stroke="#1c1c1c" stroke-width="0.22" font-family='"Liberation Sans", sans-serif'>G'' [MPa]</text>
<polyline points="313,404.5 330,405.8 355.5,404 377.3,399 384.5,396.2 393.6,388.5 399,383 402.7,370 406,350 408.5,330 411.2,313 413.2,302 414.7,293.6 418.7,293.6 420.5,302 424,314 428.5,330 432.4,340 436.2,350.9 439.4,367.3 443.8,377.1 449.3,383.1 452.5,384.8 457,387.7 461.6,390.3 464.9,392.9 469.5,401.5 474.3,408 480,411.8 490,414.3 534,414.9" fill="none" stroke="#3fdde6" stroke-width="1.1" stroke-linejoin="round"/>
<circle cx="313" cy="404.5" r="1.35" fill="#3fdde6"/>
<circle cx="317.25" cy="404.82" r="1.35" fill="#3fdde6"/>
<circle cx="321.5" cy="405.15" r="1.35" fill="#3fdde6"/>
<circle cx="325.75" cy="405.48" r="1.35" fill="#3fdde6"/>
<circle cx="330" cy="405.8" r="1.35" fill="#3fdde6"/>
<circle cx="334.25" cy="405.5" r="1.35" fill="#3fdde6"/>
<circle cx="338.5" cy="405.2" r="1.35" fill="#3fdde6"/>
<circle cx="342.75" cy="404.9" r="1.35" fill="#3fdde6"/>
<circle cx="347" cy="404.6" r="1.35" fill="#3fdde6"/>
<circle cx="351.25" cy="404.3" r="1.35" fill="#3fdde6"/>
<circle cx="355.5" cy="404" r="1.35" fill="#3fdde6"/>
<circle cx="359.75" cy="403.03" r="1.35" fill="#3fdde6"/>
<circle cx="364" cy="402.05" r="1.35" fill="#3fdde6"/>
<circle cx="368.25" cy="401.08" r="1.35" fill="#3fdde6"/>
<circle cx="372.5" cy="400.1" r="1.35" fill="#3fdde6"/>
<circle cx="376.75" cy="399.13" r="1.35" fill="#3fdde6"/>
<circle cx="381" cy="397.56" r="1.35" fill="#3fdde6"/>
<circle cx="385.25" cy="395.57" r="1.35" fill="#3fdde6"/>
<circle cx="389.5" cy="391.97" r="1.35" fill="#3fdde6"/>
<circle cx="393.75" cy="388.35" r="1.35" fill="#3fdde6"/>
<circle cx="398" cy="384.02" r="1.35" fill="#3fdde6"/>
<circle cx="402.25" cy="371.58" r="1.35" fill="#3fdde6"/>
<circle cx="406.5" cy="346" r="1.35" fill="#3fdde6"/>
<circle cx="410.75" cy="315.83" r="1.35" fill="#3fdde6"/>
<circle cx="415" cy="293.6" r="1.35" fill="#3fdde6"/>
<circle cx="419.25" cy="296.17" r="1.35" fill="#3fdde6"/>
<circle cx="423.5" cy="312.29" r="1.35" fill="#3fdde6"/>
<circle cx="427.75" cy="327.33" r="1.35" fill="#3fdde6"/>
<circle cx="432" cy="338.97" r="1.35" fill="#3fdde6"/>
<circle cx="436.25" cy="351.16" r="1.35" fill="#3fdde6"/>
<circle cx="440.5" cy="369.75" r="1.35" fill="#3fdde6"/>
<circle cx="444.75" cy="378.14" r="1.35" fill="#3fdde6"/>
<circle cx="449" cy="382.77" r="1.35" fill="#3fdde6"/>
<circle cx="453.25" cy="385.28" r="1.35" fill="#3fdde6"/>
<circle cx="457.5" cy="387.98" r="1.35" fill="#3fdde6"/>
<circle cx="461.75" cy="390.42" r="1.35" fill="#3fdde6"/>
<circle cx="466" cy="394.96" r="1.35" fill="#3fdde6"/>
<circle cx="470.25" cy="402.52" r="1.35" fill="#3fdde6"/>
<circle cx="474.5" cy="408.13" r="1.35" fill="#3fdde6"/>
<circle cx="478.75" cy="410.97" r="1.35" fill="#3fdde6"/>
<circle cx="483" cy="412.55" r="1.35" fill="#3fdde6"/>
<circle cx="487.25" cy="413.61" r="1.35" fill="#3fdde6"/>
<circle cx="491.5" cy="414.32" r="1.35" fill="#3fdde6"/>
<circle cx="495.75" cy="414.38" r="1.35" fill="#3fdde6"/>
<circle cx="500" cy="414.44" r="1.35" fill="#3fdde6"/>
<circle cx="504.25" cy="414.49" r="1.35" fill="#3fdde6"/>
<circle cx="508.5" cy="414.55" r="1.35" fill="#3fdde6"/>
<circle cx="512.75" cy="414.61" r="1.35" fill="#3fdde6"/>
<circle cx="517" cy="414.67" r="1.35" fill="#3fdde6"/>
<circle cx="521.25" cy="414.73" r="1.35" fill="#3fdde6"/>
<circle cx="525.5" cy="414.78" r="1.35" fill="#3fdde6"/>
<circle cx="529.75" cy="414.84" r="1.35" fill="#3fdde6"/>
<circle cx="534" cy="414.9" r="1.35" fill="#3fdde6"/>
<polyline points="313,404.5 330,405.8 355.5,404 377.3,399 384.5,396 393.6,388.2 399,381.8 402.7,367.3 405.7,346 410.1,313.3 412.4,302 415.2,282.4 418.7,277.6 423.2,298 427.5,313.3 431.9,339.5 435.5,364.2 439.4,375.3 444,380.5 448.5,382.5 453.1,386.4 457,389.6 461.6,392.3 465.5,394.2 470.1,400.8 474.7,407.3 479.9,411.2 486,413.5 494,414.5 534,414.9" fill="none" stroke="#e03ee0" stroke-width="1.1" stroke-linejoin="round"/>
<circle cx="313" cy="404.5" r="1.35" fill="#e03ee0"/>
<circle cx="317.25" cy="404.82" r="1.35" fill="#e03ee0"/>
<circle cx="321.5" cy="405.15" r="1.35" fill="#e03ee0"/>
<circle cx="325.75" cy="405.48" r="1.35" fill="#e03ee0"/>
<circle cx="330" cy="405.8" r="1.35" fill="#e03ee0"/>
<circle cx="334.25" cy="405.5" r="1.35" fill="#e03ee0"/>
<circle cx="338.5" cy="405.2" r="1.35" fill="#e03ee0"/>
<circle cx="342.75" cy="404.9" r="1.35" fill="#e03ee0"/>
<circle cx="347" cy="404.6" r="1.35" fill="#e03ee0"/>
<circle cx="351.25" cy="404.3" r="1.35" fill="#e03ee0"/>
<circle cx="355.5" cy="404" r="1.35" fill="#e03ee0"/>
<circle cx="359.75" cy="403.03" r="1.35" fill="#e03ee0"/>
<circle cx="364" cy="402.05" r="1.35" fill="#e03ee0"/>
<circle cx="368.25" cy="401.08" r="1.35" fill="#e03ee0"/>
<circle cx="372.5" cy="400.1" r="1.35" fill="#e03ee0"/>
<circle cx="376.75" cy="399.13" r="1.35" fill="#e03ee0"/>
<circle cx="381" cy="397.46" r="1.35" fill="#e03ee0"/>
<circle cx="385.25" cy="395.36" r="1.35" fill="#e03ee0"/>
<circle cx="389.5" cy="391.71" r="1.35" fill="#e03ee0"/>
<circle cx="393.75" cy="388.02" r="1.35" fill="#e03ee0"/>
<circle cx="398" cy="382.99" r="1.35" fill="#e03ee0"/>
<circle cx="402.25" cy="369.06" r="1.35" fill="#e03ee0"/>
<circle cx="406.5" cy="340.05" r="1.35" fill="#e03ee0"/>
<circle cx="410.75" cy="310.11" r="1.35" fill="#e03ee0"/>
<circle cx="415" cy="283.8" r="1.35" fill="#e03ee0"/>
<circle cx="419.25" cy="280.09" r="1.35" fill="#e03ee0"/>
<circle cx="423.5" cy="299.07" r="1.35" fill="#e03ee0"/>
<circle cx="427.75" cy="314.79" r="1.35" fill="#e03ee0"/>
<circle cx="432" cy="340.19" r="1.35" fill="#e03ee0"/>
<circle cx="436.25" cy="366.33" r="1.35" fill="#e03ee0"/>
<circle cx="440.5" cy="376.54" r="1.35" fill="#e03ee0"/>
<circle cx="444.75" cy="380.83" r="1.35" fill="#e03ee0"/>
<circle cx="449" cy="382.92" r="1.35" fill="#e03ee0"/>
<circle cx="453.25" cy="386.52" r="1.35" fill="#e03ee0"/>
<circle cx="457.5" cy="389.89" r="1.35" fill="#e03ee0"/>
<circle cx="461.75" cy="392.37" r="1.35" fill="#e03ee0"/>
<circle cx="466" cy="394.92" r="1.35" fill="#e03ee0"/>
<circle cx="470.25" cy="401.01" r="1.35" fill="#e03ee0"/>
<circle cx="474.5" cy="407.02" r="1.35" fill="#e03ee0"/>
<circle cx="478.75" cy="410.34" r="1.35" fill="#e03ee0"/>
<circle cx="483" cy="412.37" r="1.35" fill="#e03ee0"/>
<circle cx="487.25" cy="413.66" r="1.35" fill="#e03ee0"/>
<circle cx="491.5" cy="414.19" r="1.35" fill="#e03ee0"/>
<circle cx="495.75" cy="414.52" r="1.35" fill="#e03ee0"/>
<circle cx="500" cy="414.56" r="1.35" fill="#e03ee0"/>
<circle cx="504.25" cy="414.6" r="1.35" fill="#e03ee0"/>
<circle cx="508.5" cy="414.64" r="1.35" fill="#e03ee0"/>
<circle cx="512.75" cy="414.69" r="1.35" fill="#e03ee0"/>
<circle cx="517" cy="414.73" r="1.35" fill="#e03ee0"/>
<circle cx="521.25" cy="414.77" r="1.35" fill="#e03ee0"/>
<circle cx="525.5" cy="414.81" r="1.35" fill="#e03ee0"/>
<circle cx="529.75" cy="414.86" r="1.35" fill="#e03ee0"/>
<circle cx="534" cy="414.9" r="1.35" fill="#e03ee0"/>
<polyline points="313,404.5 330,405.8 355.5,404 377.3,398.2 384.5,394.5 390,391 393.6,385.5 398.2,376.4 401.8,360 403.5,350 406.4,326.4 409.1,302 410.2,288 415.2,280.2 418.9,287.9 420.2,302 423.2,312 427.5,334 431.5,355 436.1,371.3 440,375.3 444.6,373.3 448.5,373 453.1,376.6 457,376.6 461.3,375.3 465.5,380.5 469.4,394.2 474,404.7 477.9,409.9 484,413.2 492,414.5 534,414.9" fill="none" stroke="#2b2bd6" stroke-width="1.1" stroke-linejoin="round"/>
<circle cx="313" cy="404.5" r="1.35" fill="#2b2bd6"/>
<circle cx="317.25" cy="404.82" r="1.35" fill="#2b2bd6"/>
<circle cx="321.5" cy="405.15" r="1.35" fill="#2b2bd6"/>
<circle cx="325.75" cy="405.48" r="1.35" fill="#2b2bd6"/>
<circle cx="330" cy="405.8" r="1.35" fill="#2b2bd6"/>
<circle cx="334.25" cy="405.5" r="1.35" fill="#2b2bd6"/>
<circle cx="338.5" cy="405.2" r="1.35" fill="#2b2bd6"/>
<circle cx="342.75" cy="404.9" r="1.35" fill="#2b2bd6"/>
<circle cx="347" cy="404.6" r="1.35" fill="#2b2bd6"/>
<circle cx="351.25" cy="404.3" r="1.35" fill="#2b2bd6"/>
<circle cx="355.5" cy="404" r="1.35" fill="#2b2bd6"/>
<circle cx="359.75" cy="402.87" r="1.35" fill="#2b2bd6"/>
<circle cx="364" cy="401.74" r="1.35" fill="#2b2bd6"/>
<circle cx="368.25" cy="400.61" r="1.35" fill="#2b2bd6"/>
<circle cx="372.5" cy="399.48" r="1.35" fill="#2b2bd6"/>
<circle cx="376.75" cy="398.35" r="1.35" fill="#2b2bd6"/>
<circle cx="381" cy="396.3" r="1.35" fill="#2b2bd6"/>
<circle cx="385.25" cy="394.02" r="1.35" fill="#2b2bd6"/>
<circle cx="389.5" cy="391.32" r="1.35" fill="#2b2bd6"/>
<circle cx="393.75" cy="385.2" r="1.35" fill="#2b2bd6"/>
<circle cx="398" cy="376.8" r="1.35" fill="#2b2bd6"/>
<circle cx="402.25" cy="357.35" r="1.35" fill="#2b2bd6"/>
<circle cx="406.5" cy="325.5" r="1.35" fill="#2b2bd6"/>
<circle cx="410.75" cy="287.14" r="1.35" fill="#2b2bd6"/>
<circle cx="415" cy="280.51" r="1.35" fill="#2b2bd6"/>
<circle cx="419.25" cy="291.7" r="1.35" fill="#2b2bd6"/>
<circle cx="423.5" cy="313.53" r="1.35" fill="#2b2bd6"/>
<circle cx="427.75" cy="335.31" r="1.35" fill="#2b2bd6"/>
<circle cx="432" cy="356.77" r="1.35" fill="#2b2bd6"/>
<circle cx="436.25" cy="371.45" r="1.35" fill="#2b2bd6"/>
<circle cx="440.5" cy="375.08" r="1.35" fill="#2b2bd6"/>
<circle cx="444.75" cy="373.29" r="1.35" fill="#2b2bd6"/>
<circle cx="449" cy="373.39" r="1.35" fill="#2b2bd6"/>
<circle cx="453.25" cy="376.6" r="1.35" fill="#2b2bd6"/>
<circle cx="457.5" cy="376.45" r="1.35" fill="#2b2bd6"/>
<circle cx="461.75" cy="375.86" r="1.35" fill="#2b2bd6"/>
<circle cx="466" cy="382.26" r="1.35" fill="#2b2bd6"/>
<circle cx="470.25" cy="396.14" r="1.35" fill="#2b2bd6"/>
<circle cx="474.5" cy="405.37" r="1.35" fill="#2b2bd6"/>
<circle cx="478.75" cy="410.36" r="1.35" fill="#2b2bd6"/>
<circle cx="483" cy="412.66" r="1.35" fill="#2b2bd6"/>
<circle cx="487.25" cy="413.73" r="1.35" fill="#2b2bd6"/>
<circle cx="491.5" cy="414.42" r="1.35" fill="#2b2bd6"/>
<circle cx="495.75" cy="414.54" r="1.35" fill="#2b2bd6"/>
<circle cx="500" cy="414.58" r="1.35" fill="#2b2bd6"/>
<circle cx="504.25" cy="414.62" r="1.35" fill="#2b2bd6"/>
<circle cx="508.5" cy="414.66" r="1.35" fill="#2b2bd6"/>
<circle cx="512.75" cy="414.7" r="1.35" fill="#2b2bd6"/>
<circle cx="517" cy="414.74" r="1.35" fill="#2b2bd6"/>
<circle cx="521.25" cy="414.78" r="1.35" fill="#2b2bd6"/>
<circle cx="525.5" cy="414.82" r="1.35" fill="#2b2bd6"/>
<circle cx="529.75" cy="414.86" r="1.35" fill="#2b2bd6"/>
<circle cx="534" cy="414.9" r="1.35" fill="#2b2bd6"/>
<polyline points="313,404.8 330,405.9 355.5,404.3 382.7,401.8 391.8,400.9 400,398.7 412,395.5 424,390.3 431.5,386.2 436.8,380.5 440,372 442.6,361.5 444.6,352 446.8,335 449.2,321.2 453.6,288.5 457.3,278.2 461.4,332 464.9,366.8 469.4,387.7 474,399.4 478.6,407.3 484,411.5 492,414 534,414.9" fill="none" stroke="#dd2a2a" stroke-width="1.1" stroke-linejoin="round"/>
<circle cx="313" cy="404.8" r="1.35" fill="#dd2a2a"/>
<circle cx="317.25" cy="405.07" r="1.35" fill="#dd2a2a"/>
<circle cx="321.5" cy="405.35" r="1.35" fill="#dd2a2a"/>
<circle cx="325.75" cy="405.62" r="1.35" fill="#dd2a2a"/>
<circle cx="330" cy="405.9" r="1.35" fill="#dd2a2a"/>
<circle cx="334.25" cy="405.63" r="1.35" fill="#dd2a2a"/>
<circle cx="338.5" cy="405.37" r="1.35" fill="#dd2a2a"/>
<circle cx="342.75" cy="405.1" r="1.35" fill="#dd2a2a"/>
<circle cx="347" cy="404.83" r="1.35" fill="#dd2a2a"/>
<circle cx="351.25" cy="404.57" r="1.35" fill="#dd2a2a"/>
<circle cx="355.5" cy="404.3" r="1.35" fill="#dd2a2a"/>
<circle cx="359.75" cy="403.91" r="1.35" fill="#dd2a2a"/>
<circle cx="364" cy="403.52" r="1.35" fill="#dd2a2a"/>
<circle cx="368.25" cy="403.13" r="1.35" fill="#dd2a2a"/>
<circle cx="372.5" cy="402.74" r="1.35" fill="#dd2a2a"/>
<circle cx="376.75" cy="402.35" r="1.35" fill="#dd2a2a"/>
<circle cx="381" cy="401.96" r="1.35" fill="#dd2a2a"/>
<circle cx="385.25" cy="401.55" r="1.35" fill="#dd2a2a"/>
<circle cx="389.5" cy="401.13" r="1.35" fill="#dd2a2a"/>
<circle cx="393.75" cy="400.38" r="1.35" fill="#dd2a2a"/>
<circle cx="398" cy="399.24" r="1.35" fill="#dd2a2a"/>
<circle cx="402.25" cy="398.1" r="1.35" fill="#dd2a2a"/>
<circle cx="406.5" cy="396.97" r="1.35" fill="#dd2a2a"/>
<circle cx="410.75" cy="395.83" r="1.35" fill="#dd2a2a"/>
<circle cx="415" cy="394.2" r="1.35" fill="#dd2a2a"/>
<circle cx="419.25" cy="392.36" r="1.35" fill="#dd2a2a"/>
<circle cx="423.5" cy="390.52" r="1.35" fill="#dd2a2a"/>
<circle cx="427.75" cy="388.25" r="1.35" fill="#dd2a2a"/>
<circle cx="432" cy="385.66" r="1.35" fill="#dd2a2a"/>
<circle cx="436.25" cy="381.09" r="1.35" fill="#dd2a2a"/>
<circle cx="440.5" cy="369.98" r="1.35" fill="#dd2a2a"/>
<circle cx="444.75" cy="350.84" r="1.35" fill="#dd2a2a"/>
<circle cx="449" cy="322.35" r="1.35" fill="#dd2a2a"/>
<circle cx="453.25" cy="291.1" r="1.35" fill="#dd2a2a"/>
<circle cx="457.5" cy="280.82" r="1.35" fill="#dd2a2a"/>
<circle cx="461.75" cy="335.48" r="1.35" fill="#dd2a2a"/>
<circle cx="466" cy="371.91" r="1.35" fill="#dd2a2a"/>
<circle cx="470.25" cy="389.86" r="1.35" fill="#dd2a2a"/>
<circle cx="474.5" cy="400.26" r="1.35" fill="#dd2a2a"/>
<circle cx="478.75" cy="407.42" r="1.35" fill="#dd2a2a"/>
<circle cx="483" cy="410.72" r="1.35" fill="#dd2a2a"/>
<circle cx="487.25" cy="412.52" r="1.35" fill="#dd2a2a"/>
<circle cx="491.5" cy="413.84" r="1.35" fill="#dd2a2a"/>
<circle cx="495.75" cy="414.08" r="1.35" fill="#dd2a2a"/>
<circle cx="500" cy="414.17" r="1.35" fill="#dd2a2a"/>
<circle cx="504.25" cy="414.26" r="1.35" fill="#dd2a2a"/>
<circle cx="508.5" cy="414.35" r="1.35" fill="#dd2a2a"/>
<circle cx="512.75" cy="414.44" r="1.35" fill="#dd2a2a"/>
<circle cx="517" cy="414.54" r="1.35" fill="#dd2a2a"/>
<circle cx="521.25" cy="414.63" r="1.35" fill="#dd2a2a"/>
<circle cx="525.5" cy="414.72" r="1.35" fill="#dd2a2a"/>
<circle cx="529.75" cy="414.81" r="1.35" fill="#dd2a2a"/>
<circle cx="534" cy="414.9" r="1.35" fill="#dd2a2a"/>
<polyline points="313,404.2 330,405.5 355.5,403.8 382.7,400 391.8,397.8 400.9,395.5 409,392.7 412,391 422.8,383.1 427.6,379.2 431.5,368.7 436,349.6 439.7,312.4 444.8,256.8 448.5,247.7 452.9,280.8 456.6,320.8 461.2,343.6 465.5,364.8 469.4,379.2 473.4,393.6 477.9,402.1 482.5,408.6 488,412.5 496,414.5 534,414.9" fill="none" stroke="#1e1e1e" stroke-width="1.1" stroke-linejoin="round"/>
<circle cx="313" cy="404.2" r="1.35" fill="#1e1e1e"/>
<circle cx="317.25" cy="404.52" r="1.35" fill="#1e1e1e"/>
<circle cx="321.5" cy="404.85" r="1.35" fill="#1e1e1e"/>
<circle cx="325.75" cy="405.18" r="1.35" fill="#1e1e1e"/>
<circle cx="330" cy="405.5" r="1.35" fill="#1e1e1e"/>
<circle cx="334.25" cy="405.22" r="1.35" fill="#1e1e1e"/>
<circle cx="338.5" cy="404.93" r="1.35" fill="#1e1e1e"/>
<circle cx="342.75" cy="404.65" r="1.35" fill="#1e1e1e"/>
<circle cx="347" cy="404.37" r="1.35" fill="#1e1e1e"/>
<circle cx="351.25" cy="404.08" r="1.35" fill="#1e1e1e"/>
<circle cx="355.5" cy="403.8" r="1.35" fill="#1e1e1e"/>
<circle cx="359.75" cy="403.21" r="1.35" fill="#1e1e1e"/>
<circle cx="364" cy="402.61" r="1.35" fill="#1e1e1e"/>
<circle cx="368.25" cy="402.02" r="1.35" fill="#1e1e1e"/>
<circle cx="372.5" cy="401.43" r="1.35" fill="#1e1e1e"/>
<circle cx="376.75" cy="400.83" r="1.35" fill="#1e1e1e"/>
<circle cx="381" cy="400.24" r="1.35" fill="#1e1e1e"/>
<circle cx="385.25" cy="399.38" r="1.35" fill="#1e1e1e"/>
<circle cx="389.5" cy="398.36" r="1.35" fill="#1e1e1e"/>
<circle cx="393.75" cy="397.31" r="1.35" fill="#1e1e1e"/>
<circle cx="398" cy="396.23" r="1.35" fill="#1e1e1e"/>
<circle cx="402.25" cy="395.03" r="1.35" fill="#1e1e1e"/>
<circle cx="406.5" cy="393.56" r="1.35" fill="#1e1e1e"/>
<circle cx="410.75" cy="391.71" r="1.35" fill="#1e1e1e"/>
<circle cx="415" cy="388.81" r="1.35" fill="#1e1e1e"/>
<circle cx="419.25" cy="385.7" r="1.35" fill="#1e1e1e"/>
<circle cx="423.5" cy="382.53" r="1.35" fill="#1e1e1e"/>
<circle cx="427.75" cy="378.8" r="1.35" fill="#1e1e1e"/>
<circle cx="432" cy="366.58" r="1.35" fill="#1e1e1e"/>
<circle cx="436.25" cy="347.09" r="1.35" fill="#1e1e1e"/>
<circle cx="440.5" cy="303.68" r="1.35" fill="#1e1e1e"/>
<circle cx="444.75" cy="257.35" r="1.35" fill="#1e1e1e"/>
<circle cx="449" cy="251.46" r="1.35" fill="#1e1e1e"/>
<circle cx="453.25" cy="284.58" r="1.35" fill="#1e1e1e"/>
<circle cx="457.5" cy="325.26" r="1.35" fill="#1e1e1e"/>
<circle cx="461.75" cy="346.31" r="1.35" fill="#1e1e1e"/>
<circle cx="466" cy="366.65" r="1.35" fill="#1e1e1e"/>
<circle cx="470.25" cy="382.26" r="1.35" fill="#1e1e1e"/>
<circle cx="474.5" cy="395.68" r="1.35" fill="#1e1e1e"/>
<circle cx="478.75" cy="403.3" r="1.35" fill="#1e1e1e"/>
<circle cx="483" cy="408.95" r="1.35" fill="#1e1e1e"/>
<circle cx="487.25" cy="411.97" r="1.35" fill="#1e1e1e"/>
<circle cx="491.5" cy="413.38" r="1.35" fill="#1e1e1e"/>
<circle cx="495.75" cy="414.44" r="1.35" fill="#1e1e1e"/>
<circle cx="500" cy="414.54" r="1.35" fill="#1e1e1e"/>
<circle cx="504.25" cy="414.59" r="1.35" fill="#1e1e1e"/>
<circle cx="508.5" cy="414.63" r="1.35" fill="#1e1e1e"/>
<circle cx="512.75" cy="414.68" r="1.35" fill="#1e1e1e"/>
<circle cx="517" cy="414.72" r="1.35" fill="#1e1e1e"/>
<circle cx="521.25" cy="414.77" r="1.35" fill="#1e1e1e"/>
<circle cx="525.5" cy="414.81" r="1.35" fill="#1e1e1e"/>
<circle cx="529.75" cy="414.86" r="1.35" fill="#1e1e1e"/>
<circle cx="534" cy="414.9" r="1.35" fill="#1e1e1e"/>
<line x1="316.9" y1="242.7" x2="332.1" y2="242.7" stroke="#1e1e1e" stroke-width="1.3"/>
<circle cx="324.5" cy="242.7" r="1.4" fill="#1e1e1e"/>
<text transform="translate(334.5,245.2) scale(1,1.05)" font-size="7" text-anchor="start" fill="#1c1c1c" stroke="#1c1c1c" stroke-width="0.22" font-family='"Liberation Sans", sans-serif' >EP</text>
<line x1="316.9" y1="251.4" x2="332.1" y2="251.4" stroke="#dd2a2a" stroke-width="1.3"/>
<circle cx="324.5" cy="251.4" r="1.4" fill="#dd2a2a"/>
<text transform="translate(334.5,253.9) scale(1,1.05)" font-size="7" text-anchor="start" fill="#1c1c1c" stroke="#1c1c1c" stroke-width="0.22" font-family='"Liberation Sans", sans-serif' >EP/PC</text>
<line x1="316.9" y1="260.4" x2="332.1" y2="260.4" stroke="#3fdde6" stroke-width="1.3"/>
<circle cx="324.5" cy="260.4" r="1.4" fill="#3fdde6"/>
<text transform="translate(334.5,262.9) scale(1,1.05)" font-size="7" text-anchor="start" fill="#1c1c1c" stroke="#1c1c1c" stroke-width="0.22" font-family='"Liberation Sans", sans-serif' >EP/PC10BNP</text>
<line x1="316.9" y1="269" x2="332.1" y2="269" stroke="#e03ee0" stroke-width="1.3"/>
<circle cx="324.5" cy="269" r="1.4" fill="#e03ee0"/>
<text transform="translate(334.5,271.5) scale(1,1.05)" font-size="7" text-anchor="start" fill="#1c1c1c" stroke="#1c1c1c" stroke-width="0.22" font-family='"Liberation Sans", sans-serif' >EP/PC15BNP</text>
<line x1="316.9" y1="277.9" x2="332.1" y2="277.9" stroke="#2b2bd6" stroke-width="1.3"/>
<circle cx="324.5" cy="277.9" r="1.4" fill="#2b2bd6"/>
<text transform="translate(334.5,280.4) scale(1,1.05)" font-size="7" text-anchor="start" fill="#1c1c1c" stroke="#1c1c1c" stroke-width="0.22" font-family='"Liberation Sans", sans-serif' >EP/PC20BNP</text>
</g>
</svg>
</body></html>
